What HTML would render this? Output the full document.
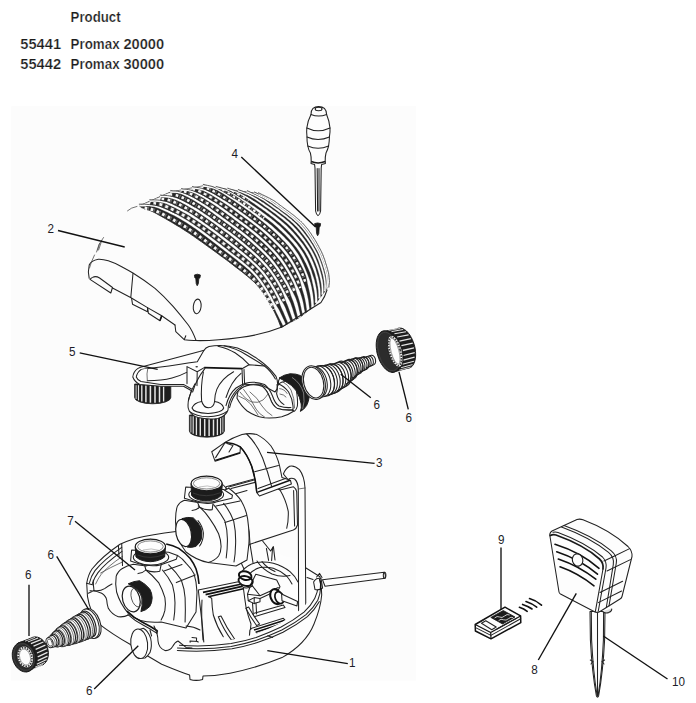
<!DOCTYPE html>
<html><head><meta charset="utf-8"><title>Promax spare parts</title>
<style>
html,body{margin:0;padding:0;background:#fff;}
body{width:696px;height:703px;overflow:hidden;position:relative;font-family:"Liberation Sans",sans-serif;}
svg{position:absolute;left:0;top:0;display:block;}
.t{font-family:"Liberation Sans",sans-serif;font-weight:bold;font-size:14.6px;fill:#1c1c1c;stroke:#fff;stroke-width:0.24px;}
.n{font-family:"Liberation Sans",sans-serif;font-size:13.4px;fill:#1c1c28;}
.ld{stroke:#111;stroke-width:1.35;fill:none;stroke-linecap:butt;}
.o{stroke:#222;stroke-width:1.05;fill:none;stroke-linejoin:round;stroke-linecap:round;}
.of{stroke:#222;stroke-width:1.05;fill:#fdfdfd;stroke-linejoin:round;stroke-linecap:round;}
.l{stroke:#444;stroke-width:0.75;fill:none;stroke-linejoin:round;stroke-linecap:round;}
.k{fill:#1a1a1a;stroke:#1a1a1a;stroke-width:0.8;stroke-linejoin:round;}
.h{stroke:#111;stroke-width:1.6;fill:none;stroke-linecap:round;}
</style></head><body>
<svg width="696" height="703" viewBox="0 0 696 703">
<g id="bg">
<rect x="11.2" y="106.2" width="404.8" height="574.5" fill="#fcfcfc"/>
</g>
<g id="text">
<g class="t">
<text x="70.6" y="22" textLength="50" lengthAdjust="spacingAndGlyphs">Product</text>
<text x="20.3" y="48.9" textLength="40.8" lengthAdjust="spacingAndGlyphs">55441</text>
<text x="70.6" y="48.9" textLength="49" lengthAdjust="spacingAndGlyphs">Promax</text>
<text x="123.4" y="48.9" textLength="40.8" lengthAdjust="spacingAndGlyphs">20000</text>
<text x="20.3" y="68.9" textLength="40.8" lengthAdjust="spacingAndGlyphs">55442</text>
<text x="70.6" y="68.9" textLength="49" lengthAdjust="spacingAndGlyphs">Promax</text>
<text x="123.4" y="68.9" textLength="40.8" lengthAdjust="spacingAndGlyphs">30000</text>
</g>
</g>
<g id="cover">
<path d="M141.5 207.6L143.8 208.3L146.1 209.0L148.3 209.8L150.5 210.7L152.7 211.7L154.9 212.8L157.0 213.9L159.0 215.1L161.1 216.2L163.2 217.4L165.3 218.6L167.3 219.8L169.4 221.0L171.5 222.2L173.5 223.4L175.6 224.7L177.6 225.9L179.7 227.1L181.7 228.4L183.7 229.7L185.7 231.0L187.7 232.3L189.7 233.6L191.7 235.0L193.7 236.3L195.6 237.7L197.6 239.1L199.5 240.5L201.5 241.8L203.4 243.2L205.3 244.6L207.3 246.0L209.2 247.4L211.2 248.8L213.1 250.2L215.0 251.6L217.0 253.0L218.9 254.4L220.8 255.9L222.8 257.3L224.7 258.7L226.6 260.1L228.5 261.5L230.4 263.0L232.3 264.4L234.2 265.9L236.1 267.4L238.0 268.8L239.9 270.3L241.8 271.7L243.7 273.2L245.5 274.7L247.4 276.2L249.2 277.7L251.0 279.3L252.8 280.9L254.5 282.5L256.2 284.2L257.8 286.0L259.4 287.8L260.9 289.6L262.4 291.5L263.8 293.5L265.2 295.4L266.5 297.4L267.8 299.4L269.0 301.5L270.2 303.6L271.3 305.7L272.4 307.8L273.4 310.0L274.5 312.1L275.5 314.3L276.5 316.4L277.5 318.6L278.5 320.8L279.3 323.0L280.2 325.3L281.0 327.5L284.5 325.5L289.5 322.8L294.5 320.2L299.5 317.5L303.9 314.2L308.2 310.8L312.6 307.5L316.2 302.7L319.4 298.4L322.4 294.5L324.9 291.2L326.9 288.5L328.0 287.0L328.0 287.0L328.1 285.4L328.3 283.9L328.4 282.3L328.4 280.8L328.3 279.2L328.2 277.6L328.0 276.1L327.8 274.5L327.5 273.0L327.2 271.5L326.8 270.0L326.3 268.5L325.9 267.0L325.4 265.5L325.0 264.0L324.5 262.5L324.0 261.0L323.5 259.5L323.0 258.0L322.5 256.5L321.9 255.1L321.3 253.7L320.6 252.2L319.9 250.8L319.2 249.4L318.5 248.0L317.7 246.7L317.0 245.3L316.2 243.9L315.4 242.6L314.6 241.2L313.8 239.9L313.0 238.6L312.2 237.2L311.3 235.9L310.4 234.6L309.5 233.3L308.6 232.1L307.7 230.8L306.8 229.5L305.8 228.3L304.8 227.1L303.8 225.9L302.7 224.8L301.6 223.6L300.5 222.5L299.4 221.5L298.2 220.4L297.1 219.4L295.9 218.4L294.7 217.4L293.4 216.4L292.2 215.4L291.0 214.4L289.7 213.5L288.5 212.6L287.2 211.6L286.0 210.7L284.7 209.8L283.4 208.8L282.2 207.9L280.9 207.0L279.6 206.1L278.4 205.2L277.1 204.2L275.9 203.3L274.6 202.3L273.3 201.5L272.0 200.7L270.6 199.9L269.2 199.2L267.8 198.4L266.5 197.7L265.1 197.0L263.6 196.3L262.2 195.6L260.8 194.9L259.4 194.3L258.0 193.6L258.0 193.6L253.9 193.0L246.8 192.0L237.9 190.8L227.4 189.3L215.8 187.7L203.0 185.9L192.2 187.9L181.4 190.0L170.6 192.0L160.2 196.6L149.8 201.2L139.4 205.8Z" fill="#262626" stroke="#222" stroke-width="0.8" stroke-linejoin="round"/>
<path d="M139.4 205.8L141.9 205.7L144.4 205.6L146.9 205.5L149.3 205.5L150.4 201.7Z" fill="#fdfdfd" stroke="#fdfdfd" stroke-width="0.6"/>
<path d="M149.8 201.2L152.2 201.2L154.7 201.1L157.1 201.1L159.6 201.3L160.8 197.1Z" fill="#fdfdfd" stroke="#fdfdfd" stroke-width="0.6"/>
<path d="M160.2 196.6L162.6 196.7L165.0 196.7L167.4 196.8L169.8 197.1L171.2 192.5Z" fill="#fdfdfd" stroke="#fdfdfd" stroke-width="0.6"/>
<path d="M170.6 192.0L173.0 192.2L175.4 192.2L177.7 192.4L180.1 192.9L182.0 190.5Z" fill="#fdfdfd" stroke="#fdfdfd" stroke-width="0.6"/>
<path d="M181.4 190.0L183.7 190.2L186.0 190.4L188.3 190.6L190.6 191.1L192.8 188.4Z" fill="#fdfdfd" stroke="#fdfdfd" stroke-width="0.6"/>
<path d="M192.2 187.9L194.4 188.3L196.7 188.5L198.9 188.8L201.1 189.2L203.6 186.4Z" fill="#fdfdfd" stroke="#fdfdfd" stroke-width="0.6"/>
<path d="M203.0 185.9L205.2 186.3L207.4 186.6L209.5 187.0L211.7 187.4L213.8 188.0L215.8 188.9L216.4 188.2Z" fill="#fdfdfd" stroke="#fdfdfd" stroke-width="0.6"/>
<path d="M215.8 187.7L217.8 188.1L219.8 188.5L221.8 189.0L223.8 189.5L225.7 190.1L227.6 190.9L228.0 189.8Z" fill="#fdfdfd" stroke="#fdfdfd" stroke-width="0.6"/>
<path d="M227.4 189.3L229.3 189.8L231.1 190.3L233.0 190.8L234.8 191.4L236.6 192.0L238.5 191.3Z" fill="#fdfdfd" stroke="#fdfdfd" stroke-width="0.6"/>
<path d="M237.9 190.8L239.6 191.3L241.3 191.9L242.9 192.4L244.6 193.1L246.3 193.7L247.4 192.5Z" fill="#fdfdfd" stroke="#fdfdfd" stroke-width="0.6"/>
<path d="M246.8 192.0L248.4 192.6L250.0 193.2L251.5 193.9L253.1 194.5L254.5 193.5Z" fill="#fdfdfd" stroke="#fdfdfd" stroke-width="0.6"/>
<path d="M253.9 193.0L255.4 193.7L256.9 194.3L258.6 194.1Z" fill="#fdfdfd" stroke="#fdfdfd" stroke-width="0.6"/>
<path d="M144.6 208.1L147.0 208.5L149.3 208.9L151.7 209.5L154.0 210.2L156.2 211.1L158.5 212.1L160.7 213.1L162.8 214.2L165.0 215.3L167.2 216.4L169.3 217.6L171.5 218.7L173.6 219.9L175.7 221.1L177.8 222.3L179.9 223.5L182.0 224.8L184.1 226.1L186.2 227.4L188.2 228.7L190.2 230.1L192.3 231.4L194.3 232.8L196.3 234.2L198.3 235.6L200.2 237.1L202.2 238.5L204.2 239.9L206.2 241.4L208.1 242.8L210.1 244.3L212.0 245.7L214.0 247.2L215.9 248.7L217.9 250.1L219.8 251.6L221.8 253.1L223.7 254.5L225.7 256.0L227.6 257.5L229.6 258.9L231.5 260.4L233.4 261.9L235.4 263.4L237.3 264.9L239.2 266.4L241.1 267.9L243.0 269.4L244.9 271.0L246.8 272.6L248.6 274.2L250.4 275.8L252.2 277.5L253.9 279.2L255.6 281.0L257.2 282.8L258.7 284.7L260.2 286.6L261.7 288.6L263.1 290.6L264.5 292.6L265.8 294.6L267.0 296.7L268.3 298.8L269.5 300.9L270.7 303.1L271.8 305.2L273.0 307.4" fill="none" stroke="#6a6a6a" stroke-width="3.70" stroke-dasharray="1.2 1.9" stroke-dashoffset="0.0"/>
<path d="M144.6 208.1L147.0 208.5L149.3 208.9L151.7 209.5L154.0 210.2L156.2 211.1L158.5 212.1L160.7 213.1L162.8 214.2L165.0 215.3L167.2 216.4L169.3 217.6L171.5 218.7L173.6 219.9L175.7 221.1L177.8 222.3L179.9 223.5L182.0 224.8L184.1 226.1L186.2 227.4L188.2 228.7L190.2 230.1L192.3 231.4L194.3 232.8L196.3 234.2L198.3 235.6L200.2 237.1L202.2 238.5L204.2 239.9L206.2 241.4L208.1 242.8L210.1 244.3L212.0 245.7L214.0 247.2L215.9 248.7L217.9 250.1L219.8 251.6L221.8 253.1L223.7 254.5L225.7 256.0L227.6 257.5L229.6 258.9L231.5 260.4L233.4 261.9L235.4 263.4L237.3 264.9L239.2 266.4L241.1 267.9L243.0 269.4L244.9 271.0L246.8 272.6L248.6 274.2L250.4 275.8L252.2 277.5L253.9 279.2L255.6 281.0L257.2 282.8L258.7 284.7L260.2 286.6L261.7 288.6L263.1 290.6L264.5 292.6L265.8 294.6L267.0 296.7L268.3 298.8L269.5 300.9L270.7 303.1L271.8 305.2L273.0 307.4L274.1 309.6" fill="none" stroke="#f4f4f4" stroke-width="2.90" stroke-dasharray="2.7 3.5" stroke-dashoffset="0.0"/>
<path d="M156.9 203.7L159.3 204.1L161.7 204.8L164.0 205.6L166.3 206.6L168.6 207.6L170.8 208.6L173.0 209.7L175.2 210.8L177.4 211.9L179.6 213.1L181.8 214.3L183.9 215.5L186.0 216.8L188.2 218.0L190.2 219.4L192.3 220.7L194.4 222.0L196.4 223.4L198.5 224.8L200.5 226.2L202.5 227.7L204.5 229.1L206.5 230.5L208.5 232.0L210.5 233.5L212.5 235.0L214.5 236.4L216.4 237.9L218.4 239.4L220.4 240.9L222.3 242.5L224.3 244.0L226.2 245.5L228.1 247.0L230.1 248.6L232.0 250.1L234.0 251.6L235.9 253.2L237.8 254.7L239.8 256.2L241.7 257.8L243.6 259.3L245.5 260.9L247.4 262.5L249.3 264.1L251.1 265.7L252.9 267.4L254.7 269.1L256.4 270.9L258.1 272.7L259.7 274.6L261.2 276.5L262.7 278.5L264.2 280.5L265.6 282.5L267.0 284.6L268.3 286.6L269.6 288.8L270.9 290.9L272.1 293.0L273.2 295.2L274.4 297.4L275.6 299.6L276.7 301.8L277.8 304.0" fill="none" stroke="#6a6a6a" stroke-width="3.60" stroke-dasharray="1.2 1.9" stroke-dashoffset="1.3"/>
<path d="M149.5 203.3L152.0 203.3L154.5 203.4L156.9 203.7L159.3 204.1L161.7 204.8L164.0 205.6L166.3 206.6L168.6 207.6L170.8 208.6L173.0 209.7L175.2 210.8L177.4 211.9L179.6 213.1L181.8 214.3L183.9 215.5L186.0 216.8L188.2 218.0L190.2 219.4L192.3 220.7L194.4 222.0L196.4 223.4L198.5 224.8L200.5 226.2L202.5 227.7L204.5 229.1L206.5 230.5L208.5 232.0L210.5 233.5L212.5 235.0L214.5 236.4L216.4 237.9L218.4 239.4L220.4 240.9L222.3 242.5L224.3 244.0L226.2 245.5L228.1 247.0L230.1 248.6L232.0 250.1L234.0 251.6L235.9 253.2L237.8 254.7L239.8 256.2L241.7 257.8L243.6 259.3L245.5 260.9L247.4 262.5L249.3 264.1L251.1 265.7L252.9 267.4L254.7 269.1L256.4 270.9L258.1 272.7L259.7 274.6L261.2 276.5L262.7 278.5L264.2 280.5L265.6 282.5L267.0 284.6L268.3 286.6L269.6 288.8L270.9 290.9L272.1 293.0L273.2 295.2L274.4 297.4L275.6 299.6L276.7 301.8L277.8 304.0L278.9 306.2" fill="none" stroke="#f4f4f4" stroke-width="2.80" stroke-dasharray="2.7 3.5" stroke-dashoffset="2.3"/>
<path d="M167.1 199.7L169.4 200.3L171.7 201.1L174.0 202.0L176.2 203.0L178.4 204.0L180.5 205.1L182.7 206.2L184.8 207.4L187.0 208.6L189.1 209.8L191.1 211.1L193.2 212.3L195.3 213.6L197.3 215.0L199.3 216.3L201.4 217.7L203.4 219.0L205.4 220.4L207.4 221.8L209.3 223.2L211.3 224.7L213.3 226.1L215.3 227.5L217.2 229.0L219.2 230.4L221.1 231.8L223.1 233.3L225.0 234.8L227.0 236.2L228.9 237.7L230.8 239.2L232.7 240.7L234.6 242.2L236.5 243.8L238.4 245.3L240.3 246.9L242.2 248.4L244.1 250.0L245.9 251.5L247.8 253.1L249.6 254.7L251.5 256.3L253.3 257.9L255.1 259.5L256.8 261.2L258.6 262.9L260.3 264.6L262.0 266.4L263.6 268.2L265.2 270.0L266.7 271.9L268.2 273.9L269.6 275.8L271.0 277.8L272.3 279.9L273.6 281.9L274.9 284.0L276.2 286.1L277.4 288.2L278.6 290.3L279.7 292.5L280.8 294.6L281.9 296.8L283.0 299.0" fill="none" stroke="#6a6a6a" stroke-width="3.50" stroke-dasharray="1.2 1.9" stroke-dashoffset="2.6"/>
<path d="M159.9 198.9L162.3 199.0L164.7 199.2L167.1 199.7L169.4 200.3L171.7 201.1L174.0 202.0L176.2 203.0L178.4 204.0L180.5 205.1L182.7 206.2L184.8 207.4L187.0 208.6L189.1 209.8L191.1 211.1L193.2 212.3L195.3 213.6L197.3 215.0L199.3 216.3L201.4 217.7L203.4 219.0L205.4 220.4L207.4 221.8L209.3 223.2L211.3 224.7L213.3 226.1L215.3 227.5L217.2 229.0L219.2 230.4L221.1 231.8L223.1 233.3L225.0 234.8L227.0 236.2L228.9 237.7L230.8 239.2L232.7 240.7L234.6 242.2L236.5 243.8L238.4 245.3L240.3 246.9L242.2 248.4L244.1 250.0L245.9 251.5L247.8 253.1L249.6 254.7L251.5 256.3L253.3 257.9L255.1 259.5L256.8 261.2L258.6 262.9L260.3 264.6L262.0 266.4L263.6 268.2L265.2 270.0L266.7 271.9L268.2 273.9L269.6 275.8L271.0 277.8L272.3 279.9L273.6 281.9L274.9 284.0L276.2 286.1L277.4 288.2L278.6 290.3L279.7 292.5L280.8 294.6L281.9 296.8L283.0 299.0L284.0 301.2" fill="none" stroke="#f4f4f4" stroke-width="2.70" stroke-dasharray="2.7 3.5" stroke-dashoffset="4.6"/>
<path d="M177.2 195.6L179.5 196.4L181.7 197.3L183.9 198.3L186.0 199.4L188.2 200.5L190.3 201.6L192.4 202.8L194.4 204.0L196.5 205.3L198.5 206.5L200.5 207.8L202.5 209.2L204.5 210.5L206.5 211.9L208.4 213.2L210.4 214.6L212.4 216.0L214.3 217.4L216.2 218.8L218.2 220.2L220.1 221.7L222.1 223.1L224.0 224.5L225.9 225.9L227.9 227.3L229.8 228.7L231.7 230.2L233.6 231.6L235.6 233.1L237.5 234.5L239.4 236.0L241.2 237.5L243.1 239.0L244.9 240.5L246.8 242.1L248.6 243.6L250.4 245.2L252.2 246.8L254.0 248.4L255.8 250.0L257.6 251.6L259.3 253.2L261.0 254.9L262.7 256.6L264.4 258.3L266.0 260.0L267.7 261.8L269.2 263.6L270.8 265.5L272.2 267.4L273.7 269.3L275.1 271.2L276.4 273.2L277.8 275.2L279.0 277.2L280.3 279.2L281.6 281.3L282.8 283.4L284.0 285.4L285.1 287.6L286.2 289.7L287.2 291.9L288.3 294.0" fill="none" stroke="#6a6a6a" stroke-width="3.40" stroke-dasharray="1.2 1.9" stroke-dashoffset="0.9"/>
<path d="M170.2 194.5L172.6 194.6L174.9 195.0L177.2 195.6L179.5 196.4L181.7 197.3L183.9 198.3L186.0 199.4L188.2 200.5L190.3 201.6L192.4 202.8L194.4 204.0L196.5 205.3L198.5 206.5L200.5 207.8L202.5 209.2L204.5 210.5L206.5 211.9L208.4 213.2L210.4 214.6L212.4 216.0L214.3 217.4L216.2 218.8L218.2 220.2L220.1 221.7L222.1 223.1L224.0 224.5L225.9 225.9L227.9 227.3L229.8 228.7L231.7 230.2L233.6 231.6L235.6 233.1L237.5 234.5L239.4 236.0L241.2 237.5L243.1 239.0L244.9 240.5L246.8 242.1L248.6 243.6L250.4 245.2L252.2 246.8L254.0 248.4L255.8 250.0L257.6 251.6L259.3 253.2L261.0 254.9L262.7 256.6L264.4 258.3L266.0 260.0L267.7 261.8L269.2 263.6L270.8 265.5L272.2 267.4L273.7 269.3L275.1 271.2L276.4 273.2L277.8 275.2L279.0 277.2L280.3 279.2L281.6 281.3L282.8 283.4L284.0 285.4L285.1 287.6L286.2 289.7L287.2 291.9L288.3 294.0L289.2 296.2" fill="none" stroke="#f4f4f4" stroke-width="2.60" stroke-dasharray="2.7 3.5" stroke-dashoffset="0.7"/>
<path d="M187.6 192.7L189.8 193.6L191.9 194.5L194.0 195.5L196.1 196.6L198.2 197.8L200.2 198.9L202.2 200.1L204.2 201.4L206.2 202.6L208.2 203.9L210.1 205.2L212.1 206.5L214.0 207.9L215.9 209.2L217.9 210.6L219.8 212.0L221.7 213.3L223.6 214.7L225.5 216.1L227.4 217.5L229.2 218.9L231.1 220.3L233.0 221.7L234.9 223.1L236.8 224.5L238.7 225.9L240.6 227.3L242.5 228.7L244.3 230.1L246.2 231.6L248.1 233.0L249.9 234.5L251.7 236.0L253.5 237.5L255.3 239.0L257.0 240.6L258.8 242.2L260.5 243.7L262.3 245.3L264.0 247.0L265.6 248.6L267.3 250.3L269.0 251.9L270.6 253.6L272.2 255.4L273.7 257.1L275.2 258.9L276.7 260.8L278.1 262.6L279.5 264.5L280.9 266.5L282.2 268.4L283.4 270.4L284.7 272.4L285.9 274.4L287.1 276.4L288.2 278.5L289.4 280.5L290.5 282.6L291.5 284.7L292.5 286.8L293.5 289.0L294.4 291.1" fill="none" stroke="#6a6a6a" stroke-width="3.30" stroke-dasharray="1.2 1.9" stroke-dashoffset="2.2"/>
<path d="M180.7 191.3L183.0 191.5L185.3 192.0L187.6 192.7L189.8 193.6L191.9 194.5L194.0 195.5L196.1 196.6L198.2 197.8L200.2 198.9L202.2 200.1L204.2 201.4L206.2 202.6L208.2 203.9L210.1 205.2L212.1 206.5L214.0 207.9L215.9 209.2L217.9 210.6L219.8 212.0L221.7 213.3L223.6 214.7L225.5 216.1L227.4 217.5L229.2 218.9L231.1 220.3L233.0 221.7L234.9 223.1L236.8 224.5L238.7 225.9L240.6 227.3L242.5 228.7L244.3 230.1L246.2 231.6L248.1 233.0L249.9 234.5L251.7 236.0L253.5 237.5L255.3 239.0L257.0 240.6L258.8 242.2L260.5 243.7L262.3 245.3L264.0 247.0L265.6 248.6L267.3 250.3L269.0 251.9L270.6 253.6L272.2 255.4L273.7 257.1L275.2 258.9L276.7 260.8L278.1 262.6L279.5 264.5L280.9 266.5L282.2 268.4L283.4 270.4L284.7 272.4L285.9 274.4L287.1 276.4L288.2 278.5L289.4 280.5L290.5 282.6L291.5 284.7L292.5 286.8L293.5 289.0L294.4 291.1L295.3 293.3" fill="none" stroke="#f4f4f4" stroke-width="2.50" stroke-dasharray="2.7 3.5" stroke-dashoffset="3.0"/>
<path d="M198.1 190.8L200.2 191.7L202.3 192.6L204.3 193.7L206.3 194.7L208.3 195.9L210.3 197.0L212.3 198.2L214.2 199.4L216.2 200.6L218.1 201.9L220.0 203.2L221.9 204.4L223.8 205.7L225.7 207.0L227.6 208.3L229.4 209.7L231.3 211.0L233.2 212.4L235.0 213.7L236.8 215.1L238.7 216.4L240.5 217.8L242.4 219.2L244.2 220.5L246.1 221.9L247.9 223.3L249.7 224.7L251.5 226.0L253.4 227.5L255.2 228.9L256.9 230.3L258.7 231.8L260.5 233.2L262.2 234.8L263.9 236.3L265.6 237.8L267.3 239.4L269.0 240.9L270.6 242.5L272.3 244.1L273.9 245.7L275.5 247.4L277.1 249.0L278.6 250.7L280.1 252.5L281.6 254.2L283.0 256.0L284.4 257.8L285.7 259.7L287.0 261.6L288.2 263.5L289.5 265.5L290.6 267.4L291.8 269.4L292.9 271.4L293.9 273.4L295.0 275.5L296.0 277.5L297.0 279.6L297.9 281.7L298.7 283.8L299.5 286.0" fill="none" stroke="#6a6a6a" stroke-width="3.20" stroke-dasharray="1.2 1.9" stroke-dashoffset="0.5"/>
<path d="M191.4 189.4L193.6 189.7L195.9 190.2L198.1 190.8L200.2 191.7L202.3 192.6L204.3 193.7L206.3 194.7L208.3 195.9L210.3 197.0L212.3 198.2L214.2 199.4L216.2 200.6L218.1 201.9L220.0 203.2L221.9 204.4L223.8 205.7L225.7 207.0L227.6 208.3L229.4 209.7L231.3 211.0L233.2 212.4L235.0 213.7L236.8 215.1L238.7 216.4L240.5 217.8L242.4 219.2L244.2 220.5L246.1 221.9L247.9 223.3L249.7 224.7L251.5 226.0L253.4 227.5L255.2 228.9L256.9 230.3L258.7 231.8L260.5 233.2L262.2 234.8L263.9 236.3L265.6 237.8L267.3 239.4L269.0 240.9L270.6 242.5L272.3 244.1L273.9 245.7L275.5 247.4L277.1 249.0L278.6 250.7L280.1 252.5L281.6 254.2L283.0 256.0L284.4 257.8L285.7 259.7L287.0 261.6L288.2 263.5L289.5 265.5L290.6 267.4L291.8 269.4L292.9 271.4L293.9 273.4L295.0 275.5L296.0 277.5L297.0 279.6L297.9 281.7L298.7 283.8L299.5 286.0L300.3 288.1" fill="none" stroke="#f4f4f4" stroke-width="2.40" stroke-dasharray="2.7 3.5" stroke-dashoffset="5.3"/>
<path d="M208.6 189.0L210.6 189.8L212.7 190.7L214.6 191.8L216.6 192.8L218.5 194.0L220.4 195.1L222.3 196.3L224.2 197.5L226.1 198.7L228.0 199.9L229.9 201.1L231.7 202.3L233.6 203.6L235.4 204.8L237.3 206.1L239.1 207.4L240.9 208.7L242.7 210.0L244.5 211.3L246.3 212.6L248.1 214.0L249.9 215.3L251.7 216.6L253.5 218.0L255.3 219.3L257.1 220.7L258.9 222.0L260.6 223.4L262.4 224.8L264.1 226.2L265.8 227.6L267.5 229.0L269.2 230.5L270.9 232.0L272.5 233.5L274.2 235.0L275.8 236.5L277.4 238.1L279.0 239.7L280.6 241.2L282.1 242.8L283.7 244.5L285.2 246.1L286.6 247.8L288.1 249.5L289.4 251.3L290.8 253.1L292.1 254.9L293.3 256.8L294.5 258.7L295.6 260.6L296.7 262.5L297.8 264.5L298.8 266.5L299.8 268.5L300.8 270.5L301.7 272.5L302.6 274.5L303.4 276.6L304.2 278.7L304.9 280.8" fill="none" stroke="#6a6a6a" stroke-width="3.10" stroke-dasharray="1.2 1.9" stroke-dashoffset="1.8"/>
<path d="M202.0 187.6L204.2 187.9L206.4 188.3L208.6 189.0L210.6 189.8L212.7 190.7L214.6 191.8L216.6 192.8L218.5 194.0L220.4 195.1L222.3 196.3L224.2 197.5L226.1 198.7L228.0 199.9L229.9 201.1L231.7 202.3L233.6 203.6L235.4 204.8L237.3 206.1L239.1 207.4L240.9 208.7L242.7 210.0L244.5 211.3L246.3 212.6L248.1 214.0L249.9 215.3L251.7 216.6L253.5 218.0L255.3 219.3L257.1 220.7L258.9 222.0L260.6 223.4L262.4 224.8L264.1 226.2L265.8 227.6L267.5 229.0L269.2 230.5L270.9 232.0L272.5 233.5L274.2 235.0L275.8 236.5L277.4 238.1L279.0 239.7L280.6 241.2L282.1 242.8L283.7 244.5L285.2 246.1L286.6 247.8L288.1 249.5L289.4 251.3L290.8 253.1L292.1 254.9L293.3 256.8L294.5 258.7L295.6 260.6L296.7 262.5L297.8 264.5L298.8 266.5L299.8 268.5L300.8 270.5L301.7 272.5L302.6 274.5L303.4 276.6L304.2 278.7L304.9 280.8L305.6 282.9" fill="none" stroke="#f4f4f4" stroke-width="2.30" stroke-dasharray="2.7 3.5" stroke-dashoffset="1.4"/>
<path d="M219.8 189.1L221.7 189.9L223.6 190.8L225.5 191.8L227.4 192.8L229.2 193.9L231.0 195.0L232.9 196.2L234.6 197.3L236.4 198.5L238.2 199.6L240.0 200.8L241.8 202.0L243.6 203.1L245.3 204.3L247.1 205.5L248.8 206.8L250.6 208.0L252.3 209.2L254.0 210.5L255.7 211.8L257.4 213.0L259.1 214.3L260.8 215.6L262.5 216.9" fill="none" stroke="#6a6a6a" stroke-width="3.00" stroke-dasharray="1.2 1.9" stroke-dashoffset="0.1"/>
<path d="M213.6 187.6L215.7 188.0L217.7 188.4L219.8 189.1L221.7 189.9L223.6 190.8L225.5 191.8L227.4 192.8L229.2 193.9L231.0 195.0L232.9 196.2L234.6 197.3L236.4 198.5L238.2 199.6L240.0 200.8L241.8 202.0L243.6 203.1L245.3 204.3L247.1 205.5L248.8 206.8L250.6 208.0L252.3 209.2L254.0 210.5L255.7 211.8L257.4 213.0L259.1 214.3L260.8 215.6L262.5 216.9L264.2 218.2" fill="none" stroke="#f4f4f4" stroke-width="2.20" stroke-dasharray="2.7 3.5" stroke-dashoffset="3.7"/>
<path d="M231.1 191.1L233.0 191.9L234.8 192.7L236.5 193.6L238.3 194.6L240.0 195.6L241.7 196.6L243.4 197.7L245.0 198.8L246.7 199.9" fill="none" stroke="#6a6a6a" stroke-width="2.90" stroke-dasharray="1.2 1.9" stroke-dashoffset="1.4"/>
<path d="M225.5 189.4L227.4 189.9L229.3 190.4L231.1 191.1L233.0 191.9L234.8 192.7L236.5 193.6L238.3 194.6L240.0 195.6L241.7 196.6L243.4 197.7L245.0 198.8L246.7 199.9L248.3 201.0" fill="none" stroke="#f4f4f4" stroke-width="2.10" stroke-dasharray="2.7 3.5" stroke-dashoffset="6.0"/>
<path d="M139.4 206.1L141.9 206.2L144.4 206.2L146.9 206.1L149.3 206.1L151.8 206.4L154.2 206.7L156.5 207.4L158.8 208.2L161.0 209.2L163.3 210.2L165.5 211.3L167.8 212.3L170.0 213.4L172.2 214.5L174.4 215.6L176.6 216.8L178.8 218.0L180.9 219.2L183.0 220.5L185.2 221.8L187.2 223.1L189.3 224.4L191.4 225.8L193.4 227.2L195.5 228.6L197.5 230.0L199.5 231.5L201.5 232.9L203.5 234.4L205.5 235.9L207.5 237.4L209.5 238.9L211.5 240.4L213.4 241.9L215.4 243.4L217.4 244.9L219.3 246.5L221.3 248.0L223.3 249.5L225.2 251.1L227.2 252.6L229.2 254.1L231.2 255.6L233.1 257.1L235.1 258.6L237.1 260.1L239.0 261.7L241.0 263.2L242.9 264.7L244.8 266.3L246.7 267.9L248.6 269.5L250.4 271.2L252.1 273.0L253.8 274.7L255.4 276.6L257.0 278.5L258.5 280.4L260.0 282.4L261.4 284.4L262.8 286.5L264.2 288.5L265.5 290.6L266.7 292.7L267.9 294.9L269.2 297.1L270.4 299.2L271.5 301.4L272.7 303.6L273.7 305.9L274.7 308.2L275.6 310.5L276.6 312.7L277.8 314.9L278.9 317.2L280.0 319.4L281.1 321.6L282.2 323.8L283.2 326.1L285.8 324.9L284.8 322.6L283.8 320.3L282.7 318.1L281.7 315.8L280.6 313.5L279.6 311.3L278.4 309.1L277.1 306.9L275.8 304.8L274.4 302.7L273.2 300.5L272.1 298.3L270.9 296.1L269.7 293.9L268.4 291.7L267.1 289.6L265.8 287.5L264.4 285.4L263.0 283.3L261.6 281.3L260.1 279.2L258.6 277.2L257.0 275.3L255.3 273.4L253.5 271.6L251.8 269.8L249.9 268.1L248.0 266.4L246.1 264.8L244.2 263.2L242.3 261.6L240.3 260.0L238.4 258.5L236.4 257.0L234.4 255.4L232.5 253.9L230.5 252.4L228.5 250.9L226.6 249.3L224.6 247.8L222.6 246.3L220.7 244.7L218.7 243.2L216.7 241.7L214.8 240.2L212.8 238.7L210.8 237.2L208.8 235.7L206.8 234.2L204.8 232.7L202.8 231.2L200.8 229.7L198.7 228.3L196.7 226.9L194.6 225.5L192.6 224.1L190.5 222.7L188.4 221.3L186.2 220.0L184.1 218.7L182.0 217.4L179.8 216.2L177.6 215.0L175.4 213.8L173.1 212.7L170.9 211.6L168.6 210.5L166.4 209.4L164.1 208.4L161.7 207.5L159.4 206.6L156.9 205.9L154.4 205.4L151.9 205.1L149.4 205.0L146.9 204.9L144.3 205.0L141.9 205.2L139.4 205.5Z" fill="#fff" stroke="#fff" stroke-width="0.3"/>
<path d="M139.3 204.2L141.8 204.1L144.3 204.2L146.9 204.4L149.4 204.6L151.9 204.8L154.5 205.0L157.0 205.6L159.5 206.3L161.9 207.2L164.2 208.1L166.5 209.1L168.8 210.2L171.0 211.3L173.3 212.4L175.5 213.5" fill="none" stroke="#2a2a2a" stroke-width="0.75" stroke-linecap="round"/>
<path d="M149.8 201.5L152.3 201.6L154.7 201.6L157.1 201.7L159.5 202.0L161.8 202.5L164.2 203.0L166.4 203.8L168.6 204.7L170.8 205.7L173.0 206.7L175.2 207.8L177.4 208.9L179.5 210.0L181.7 211.2L183.8 212.4L185.9 213.6L188.0 214.8L190.1 216.1L192.2 217.4L194.2 218.7L196.3 220.1L198.3 221.4L200.3 222.8L202.3 224.2L204.3 225.6L206.3 227.0L208.3 228.5L210.3 229.9L212.2 231.3L214.2 232.8L216.2 234.3L218.1 235.7L220.1 237.2L222.0 238.7L224.0 240.2L225.9 241.7L227.8 243.2L229.7 244.7L231.7 246.3L233.6 247.8L235.5 249.3L237.4 250.9L239.3 252.4L241.2 253.9L243.1 255.5L245.0 257.0L246.9 258.6L248.7 260.2L250.6 261.8L252.4 263.4L254.2 265.0L255.9 266.7L257.6 268.5L259.3 270.2L260.9 272.0L262.4 273.9L263.9 275.8L265.3 277.8L266.7 279.7L268.1 281.8L269.5 283.8L270.8 285.8L272.0 287.9L273.3 290.0L274.5 292.1L275.6 294.3L276.8 296.4L277.9 298.6L278.8 300.9L279.7 303.1L280.6 305.4L281.5 307.7L282.5 309.9L283.5 312.1L284.4 314.3L285.4 316.6L286.3 318.8L287.3 321.1L288.2 323.4L290.8 322.3L289.9 320.0L289.1 317.7L288.2 315.5L287.3 313.2L286.4 310.9L285.5 308.6L284.5 306.3L283.4 304.1L282.1 302.0L280.8 299.9L279.6 297.7L278.5 295.6L277.3 293.4L276.2 291.2L275.0 289.0L273.7 286.9L272.5 284.8L271.1 282.7L269.8 280.6L268.4 278.6L267.0 276.6L265.5 274.6L264.0 272.6L262.4 270.7L260.7 268.9L259.1 267.1L257.3 265.3L255.5 263.6L253.7 261.9L251.9 260.2L250.1 258.6L248.2 257.0L246.3 255.4L244.4 253.8L242.6 252.3L240.7 250.7L238.7 249.2L236.8 247.6L234.9 246.1L233.0 244.6L231.1 243.0L229.2 241.5L227.2 240.0L225.3 238.5L223.3 237.0L221.4 235.5L219.4 234.0L217.5 232.5L215.5 231.1L213.5 229.6L211.5 228.2L209.5 226.7L207.5 225.3L205.5 223.9L203.5 222.5L201.5 221.1L199.5 219.7L197.4 218.3L195.4 216.9L193.3 215.6L191.2 214.3L189.1 213.0L187.0 211.8L184.9 210.5L182.7 209.3L180.5 208.2L178.3 207.0L176.1 205.9L173.9 204.9L171.7 203.8L169.4 202.9L167.0 202.0L164.6 201.4L162.1 200.9L159.7 200.6L157.2 200.5L154.7 200.6L152.2 200.8L149.8 200.9Z" fill="#fff" stroke="#fff" stroke-width="0.3"/>
<path d="M149.8 199.7L152.2 199.9L154.7 199.9L157.2 200.0L159.7 200.2L162.2 200.6L164.7 201.0L167.1 201.7L169.5 202.6L171.8 203.5L174.1 204.6L176.3 205.6L178.5 206.7L180.7 207.9L182.9 209.0L185.0 210.2" fill="none" stroke="#2a2a2a" stroke-width="0.75" stroke-linecap="round"/>
<path d="M160.2 196.9L162.6 197.1L165.0 197.2L167.4 197.4L169.7 197.9L171.9 198.5L174.2 199.2L176.3 200.1L178.5 201.1L180.7 202.1L182.8 203.2L184.9 204.3L187.0 205.5L189.1 206.7L191.2 207.9L193.2 209.1L195.3 210.4L197.3 211.7L199.3 213.0L201.3 214.3L203.3 215.7L205.3 217.0L207.2 218.4L209.2 219.8L211.2 221.2L213.1 222.6L215.1 224.0L217.1 225.4L219.0 226.9L221.0 228.3L222.9 229.7L224.8 231.2L226.8 232.6L228.7 234.1L230.6 235.5L232.5 237.0L234.4 238.5L236.3 240.0L238.2 241.5L240.0 243.0L241.9 244.5L243.8 246.1L245.6 247.6L247.4 249.2L249.3 250.7L251.1 252.3L252.9 253.9L254.7 255.5L256.4 257.2L258.2 258.8L259.9 260.5L261.6 262.2L263.2 263.9L264.8 265.7L266.4 267.5L267.9 269.3L269.4 271.2L270.8 273.1L272.2 275.1L273.5 277.1L274.8 279.1L276.1 281.1L277.4 283.1L278.6 285.2L279.8 287.3L281.0 289.4L282.1 291.5L283.2 293.7L284.1 295.9L284.9 298.1L285.7 300.4L286.6 302.7L287.5 304.8L288.4 307.0L289.2 309.3L290.0 311.5L290.8 313.8L291.6 316.1L292.4 318.3L293.2 320.6L295.8 319.7L295.1 317.4L294.3 315.1L293.6 312.9L292.9 310.5L292.2 308.2L291.4 305.9L290.6 303.6L289.6 301.3L288.5 299.2L287.3 297.0L286.1 294.9L284.9 292.8L283.8 290.6L282.7 288.5L281.5 286.3L280.3 284.2L279.1 282.1L277.8 280.0L276.5 278.0L275.2 276.0L273.8 274.0L272.4 272.0L271.0 270.0L269.5 268.1L267.9 266.2L266.4 264.3L264.7 262.5L263.1 260.7L261.4 259.0L259.6 257.3L257.9 255.6L256.1 254.0L254.3 252.3L252.5 250.7L250.7 249.1L248.8 247.5L247.0 246.0L245.2 244.4L243.3 242.8L241.4 241.3L239.6 239.8L237.7 238.2L235.8 236.8L233.8 235.3L231.9 233.8L230.0 232.3L228.1 230.9L226.1 229.4L224.2 228.0L222.2 226.6L220.3 225.1L218.3 223.7L216.3 222.3L214.4 220.9L212.4 219.5L210.5 218.0L208.5 216.6L206.5 215.3L204.5 213.9L202.5 212.5L200.5 211.2L198.5 209.8L196.4 208.5L194.4 207.3L192.3 206.0L190.2 204.8L188.1 203.6L185.9 202.4L183.8 201.3L181.6 200.2L179.4 199.2L177.1 198.3L174.8 197.5L172.4 196.8L170.0 196.3L167.5 196.1L165.0 196.1L162.6 196.3L160.2 196.3Z" fill="#fff" stroke="#fff" stroke-width="0.3"/>
<path d="M160.3 195.1L162.6 195.3L165.0 195.4L167.5 195.6L170.0 196.0L172.5 196.5L174.9 197.1L177.2 197.9L179.5 198.9L181.7 199.9L183.9 201.0L186.1 202.1L188.2 203.3L190.3 204.5L192.4 205.7L194.5 207.0" fill="none" stroke="#2a2a2a" stroke-width="0.75" stroke-linecap="round"/>
<path d="M170.6 192.3L173.0 192.6L175.3 192.8L177.6 193.0L179.9 193.6L182.1 194.3L184.2 195.3L186.3 196.3L188.4 197.3L190.5 198.4L192.6 199.6L194.6 200.7L196.7 202.0L198.7 203.2L200.7 204.5L202.7 205.8L204.6 207.1L206.6 208.4L208.5 209.8L210.4 211.2L212.4 212.6L214.3 214.0L216.2 215.4L218.1 216.8L220.1 218.2L222.0 219.6L223.9 221.0L225.8 222.4L227.7 223.8L229.7 225.2L231.6 226.6L233.5 228.0L235.4 229.5L237.3 230.9L239.2 232.3L241.1 233.8L242.9 235.2L244.8 236.7L246.6 238.2L248.4 239.7L250.2 241.3L252.0 242.8L253.8 244.4L255.6 246.0L257.3 247.6L259.1 249.2L260.8 250.8L262.5 252.5L264.1 254.1L265.8 255.8L267.4 257.6L269.0 259.3L270.5 261.1L272.0 262.9L273.5 264.8L274.9 266.6L276.3 268.5L277.7 270.5L279.0 272.4L280.3 274.4L281.5 276.4L282.8 278.4L284.0 280.5L285.2 282.5L286.4 284.6L287.5 286.6L288.5 288.8L289.5 290.9L290.3 293.1L291.1 295.4L291.8 297.6L292.7 299.8L293.6 302.0L294.3 304.2L295.0 306.4L295.7 308.7L296.3 310.9L296.9 313.3L297.5 315.6L298.2 317.9L300.8 317.1L300.1 314.8L299.6 312.6L299.0 310.3L298.5 307.9L297.9 305.6L297.3 303.2L296.5 300.9L295.7 298.6L294.8 296.4L293.7 294.3L292.6 292.1L291.4 290.0L290.3 287.9L289.2 285.7L288.1 283.6L287.0 281.5L285.7 279.4L284.5 277.4L283.3 275.3L282.0 273.3L280.7 271.3L279.4 269.3L278.0 267.3L276.6 265.4L275.2 263.5L273.7 261.6L272.2 259.7L270.6 257.9L269.0 256.1L267.3 254.4L265.7 252.6L264.0 250.9L262.3 249.3L260.5 247.6L258.8 246.0L257.0 244.4L255.3 242.8L253.5 241.2L251.7 239.6L249.9 238.0L248.0 236.5L246.2 235.0L244.3 233.5L242.4 232.1L240.5 230.6L238.6 229.2L236.7 227.7L234.8 226.3L232.8 224.9L230.9 223.5L229.0 222.1L227.1 220.7L225.2 219.3L223.2 217.9L221.3 216.5L219.4 215.1L217.5 213.7L215.5 212.2L213.6 210.9L211.7 209.5L209.7 208.1L207.8 206.7L205.8 205.4L203.8 204.0L201.8 202.7L199.8 201.5L197.7 200.2L195.7 199.0L193.6 197.8L191.4 196.7L189.3 195.7L187.1 194.7L184.9 193.7L182.6 192.9L180.2 192.2L177.8 191.8L175.4 191.7L173.0 191.8L170.6 191.7Z" fill="#fff" stroke="#fff" stroke-width="0.3"/>
<path d="M170.7 190.5L173.0 190.8L175.4 191.0L177.9 191.3L180.3 191.9L182.7 192.6L185.0 193.4L187.2 194.3L189.4 195.3L191.6 196.4L193.7 197.5L195.8 198.7L197.9 199.9L200.0 201.2L202.0 202.4L204.0 203.7" fill="none" stroke="#2a2a2a" stroke-width="0.75" stroke-linecap="round"/>
<path d="M181.4 190.2L183.7 190.6L186.0 190.8L188.2 191.1L190.4 191.7L192.6 192.4L194.7 193.3L196.7 194.3L198.8 195.4L200.8 196.5L202.8 197.6L204.8 198.8L206.8 200.0L208.7 201.2L210.7 202.5L212.6 203.7L214.5 205.0L216.4 206.3L218.3 207.6L220.2 209.0L222.1 210.3L224.0 211.7L225.9 213.0L227.7 214.4L229.6 215.8L231.5 217.1L233.3 218.5L235.2 219.9L237.1 221.3L238.9 222.7L240.8 224.0L242.7 225.4L244.5 226.8L246.4 228.2L248.2 229.6L250.0 231.1L251.8 232.5L253.6 234.0L255.4 235.4L257.1 237.0L258.9 238.5L260.6 240.0L262.3 241.6L264.0 243.1L265.7 244.7L267.4 246.3L269.0 247.9L270.6 249.6L272.2 251.2L273.8 252.9L275.3 254.7L276.8 256.4L278.2 258.2L279.7 260.0L281.0 261.8L282.4 263.7L283.6 265.6L284.9 267.5L286.1 269.5L287.3 271.4L288.5 273.4L289.6 275.4L290.7 277.5L291.8 279.5L292.8 281.5L293.8 283.6L294.7 285.7L295.4 287.9L296.1 290.1L296.7 292.3L297.4 294.5L298.2 296.6L298.9 298.8L299.6 301.0L300.2 303.2L300.7 305.4L301.2 307.6L301.7 309.9L302.2 312.2L302.6 314.4L305.2 313.9L304.7 311.7L304.2 309.4L303.8 307.1L303.4 304.8L303.0 302.5L302.4 300.2L301.8 297.9L301.1 295.7L300.4 293.5L299.6 291.3L298.6 289.1L297.6 287.0L296.5 284.9L295.6 282.8L294.6 280.7L293.6 278.6L292.5 276.5L291.4 274.4L290.3 272.4L289.1 270.4L287.9 268.4L286.7 266.4L285.5 264.4L284.2 262.4L282.8 260.5L281.4 258.6L280.0 256.8L278.5 255.0L277.0 253.2L275.4 251.4L273.8 249.7L272.2 248.0L270.5 246.4L268.9 244.7L267.2 243.1L265.5 241.5L263.8 240.0L262.1 238.4L260.3 236.8L258.6 235.3L256.8 233.8L255.0 232.3L253.2 230.8L251.3 229.4L249.5 227.9L247.7 226.5L245.8 225.1L243.9 223.7L242.1 222.3L240.2 221.0L238.3 219.6L236.5 218.2L234.6 216.8L232.7 215.4L230.9 214.1L229.0 212.7L227.1 211.3L225.2 210.0L223.3 208.6L221.4 207.3L219.5 206.0L217.6 204.6L215.6 203.3L213.7 202.1L211.7 200.8L209.7 199.6L207.8 198.3L205.7 197.2L203.7 196.0L201.7 194.9L199.6 193.8L197.4 192.9L195.3 191.9L193.0 191.1L190.8 190.5L188.4 190.1L186.1 189.9L183.7 189.8L181.4 189.7Z" fill="#fff" stroke="#fff" stroke-width="0.3"/>
<path d="M181.5 188.6L183.8 189.0L186.1 189.2L188.5 189.6L190.8 190.1L193.2 190.8L195.4 191.6L197.6 192.5L199.7 193.5L201.8 194.6L203.9 195.7L205.9 196.9L207.9 198.0L209.9 199.3L211.9 200.5L213.9 201.8" fill="none" stroke="#2a2a2a" stroke-width="0.75" stroke-linecap="round"/>
<path d="M192.2 188.2L194.4 188.6L196.6 189.0L198.8 189.3L201.0 189.9L203.1 190.6L205.1 191.4L207.1 192.4L209.1 193.5L211.0 194.6L213.0 195.7L214.9 196.9L216.8 198.1L218.7 199.3L220.6 200.5L222.5 201.7L224.4 203.0L226.3 204.2L228.1 205.5L230.0 206.8L231.8 208.1L233.7 209.4L235.5 210.7L237.3 212.0L239.1 213.4L241.0 214.7L242.8 216.1L244.6 217.4L246.4 218.7L248.2 220.1L250.0 221.4L251.8 222.8L253.6 224.2L255.4 225.6L257.2 227.0L259.0 228.4L260.7 229.8L262.4 231.2L264.1 232.7L265.8 234.2L267.5 235.7L269.1 237.2L270.8 238.8L272.4 240.3L274.0 241.9L275.6 243.5L277.2 245.1L278.8 246.7L280.3 248.3L281.8 250.0L283.2 251.7L284.6 253.4L286.0 255.2L287.3 257.0L288.6 258.9L289.8 260.7L291.0 262.6L292.2 264.5L293.3 266.5L294.3 268.4L295.4 270.4L296.4 272.4L297.4 274.4L298.4 276.5L299.3 278.5L300.1 280.5L300.7 282.7L301.3 284.9L301.8 287.0L302.4 289.2L303.0 291.3L303.7 293.5L304.3 295.6L304.8 297.8L305.3 299.9L305.7 302.1L306.1 304.3L306.4 306.6L306.8 308.8L306.9 310.9L309.5 310.7L309.3 308.5L309.0 306.2L308.7 304.0L308.4 301.7L308.1 299.4L307.6 297.2L307.1 294.9L306.6 292.7L306.0 290.5L305.4 288.3L304.6 286.2L303.8 284.0L302.9 281.9L302.0 279.8L301.1 277.7L300.2 275.6L299.3 273.5L298.3 271.5L297.3 269.5L296.2 267.4L295.2 265.4L294.0 263.4L292.9 261.5L291.7 259.5L290.4 257.6L289.1 255.7L287.8 253.9L286.4 252.1L284.9 250.3L283.5 248.5L281.9 246.8L280.4 245.2L278.8 243.5L277.2 241.9L275.6 240.3L274.0 238.7L272.3 237.1L270.6 235.6L269.0 234.1L267.3 232.6L265.6 231.1L263.8 229.6L262.1 228.1L260.3 226.7L258.5 225.3L256.7 223.9L254.9 222.5L253.1 221.1L251.3 219.7L249.5 218.4L247.7 217.0L245.9 215.7L244.0 214.3L242.2 213.0L240.4 211.7L238.6 210.3L236.7 209.0L234.9 207.7L233.0 206.4L231.1 205.1L229.3 203.8L227.4 202.5L225.5 201.3L223.6 200.1L221.7 198.8L219.8 197.6L217.8 196.4L215.9 195.3L213.9 194.1L211.9 193.0L209.9 191.9L207.8 191.0L205.7 190.1L203.5 189.2L201.3 188.6L199.0 188.2L196.7 188.0L194.5 187.9L192.2 187.7Z" fill="#fff" stroke="#fff" stroke-width="0.3"/>
<path d="M192.4 186.6L194.6 187.0L196.8 187.4L199.1 187.7L201.4 188.3L203.7 188.9L205.8 189.7L208.0 190.6L210.0 191.6L212.1 192.7L214.1 193.8L216.1 195.0L218.0 196.1L219.9 197.3L221.9 198.5L223.8 199.8" fill="none" stroke="#2a2a2a" stroke-width="0.75" stroke-linecap="round"/>
<path d="M202.9 186.2L205.1 186.7L207.3 187.2L209.4 187.6L211.5 188.0L213.6 188.6L215.6 189.4L217.6 190.3L219.5 191.4L221.4 192.5L223.2 193.6L225.1 194.8L227.0 196.0L228.8 197.2L230.7 198.4L232.5 199.6L234.4 200.8L236.2 202.0L238.0 203.2L239.8 204.4L241.6 205.7L243.5 206.9L245.2 208.2L247.0 209.5L248.8 210.8L250.6 212.1L252.3 213.4L254.1 214.7L255.9 216.1L257.6 217.4L259.3 218.8L261.0 220.2L262.8 221.5L264.5 222.9L266.2 224.3L267.8 225.7L269.5 227.2L271.1 228.6L272.8 230.1L274.4 231.6L276.0 233.1L277.6 234.6L279.1 236.1L280.7 237.6L282.2 239.2L283.8 240.8L285.3 242.3L286.7 244.0L288.2 245.6L289.6 247.2L291.0 248.9L292.3 250.6L293.6 252.4L294.8 254.2L296.0 256.0L297.2 257.8L298.3 259.7L299.4 261.6L300.4 263.5L301.5 265.4L302.5 267.4L303.4 269.3L304.3 271.3L305.1 273.4L305.9 275.4L306.5 277.5L307.0 279.6L307.4 281.8L307.8 283.9L308.3 286.0L308.8 288.2L309.3 290.3L309.8 292.4L310.2 294.6L310.6 296.7L310.9 298.9L311.1 301.0L311.3 303.2L311.5 305.4L311.3 307.5L313.9 307.5L313.8 305.3L313.5 303.0L313.4 300.8L313.2 298.6L313.0 296.4L312.7 294.1L312.3 291.9L311.9 289.8L311.5 287.6L311.0 285.4L310.5 283.2L309.8 281.1L309.1 279.0L308.3 276.9L307.5 274.8L306.7 272.7L305.9 270.7L305.0 268.6L304.1 266.6L303.3 264.5L302.3 262.5L301.4 260.5L300.3 258.5L299.3 256.6L298.2 254.6L297.0 252.7L295.7 250.9L294.4 249.0L293.1 247.2L291.7 245.5L290.3 243.8L288.8 242.1L287.3 240.5L285.7 238.9L284.2 237.3L282.6 235.7L281.0 234.2L279.4 232.7L277.7 231.2L276.1 229.7L274.4 228.2L272.8 226.7L271.1 225.3L269.3 223.9L267.6 222.6L265.8 221.2L264.1 219.9L262.3 218.5L260.5 217.2L258.7 215.9L257.0 214.6L255.2 213.3L253.4 212.0L251.6 210.7L249.8 209.4L248.0 208.1L246.2 206.8L244.4 205.5L242.6 204.3L240.8 203.0L238.9 201.8L237.1 200.6L235.3 199.4L233.4 198.2L231.5 197.0L229.7 195.8L227.8 194.7L225.9 193.5L224.0 192.4L222.1 191.3L220.1 190.3L218.1 189.3L216.1 188.4L214.0 187.5L211.8 186.8L209.6 186.3L207.4 186.1L205.2 185.9L203.1 185.6Z" fill="#fff" stroke="#fff" stroke-width="0.3"/>
<path d="M203.3 184.4L205.4 184.9L207.5 185.4L209.7 185.8L211.9 186.4L214.1 187.2L216.2 188.1L218.3 189.0L220.3 190.0L222.2 191.0L224.2 192.1L226.1 193.2L228.0 194.4L229.8 195.5L231.7 196.7L233.6 197.9" fill="none" stroke="#2a2a2a" stroke-width="0.75" stroke-linecap="round"/>
<path d="M215.7 187.9L217.7 188.5L219.7 188.9L221.7 189.4L223.6 189.9L225.5 190.5L227.4 191.3L229.3 192.2L231.1 193.2L232.8 194.2L234.6 195.3L236.3 196.3L238.0 197.5L239.7 198.6L241.4 199.7L243.1 200.9L244.8 202.1L246.5 203.2L248.2 204.4L249.9 205.6L251.5 206.8L253.2 208.0L254.8 209.2L256.5 210.4L258.1 211.7L259.7 212.9L261.4 214.2L263.0 215.4L264.6 216.7L266.2 218.0L267.8 219.2L269.4 220.5L271.0 221.8L272.6 223.1L274.2 224.4L275.7 225.8L277.2 227.1L278.7 228.5L280.2 229.9L281.7 231.3L283.1 232.7L284.6 234.1L286.0 235.6L287.4 237.1L288.8 238.5L290.2 240.0L291.5 241.6L292.9 243.1L294.2 244.7L295.4 246.2L296.7 247.8L297.9 249.5L299.0 251.1L300.1 252.8L301.2 254.6L302.2 256.3L303.2 258.1L304.2 259.9L305.1 261.7L306.1 263.5L306.9 265.3L307.8 267.2L308.6 269.0L309.4 270.9L310.2 272.8L310.8 274.7L311.3 276.7L311.7 278.7L312.2 280.7L312.6 282.7L313.1 284.7L313.5 286.7L313.9 288.6L314.3 290.6L314.6 292.6L314.9 294.6L315.1 296.7L315.2 298.7L315.2 300.7L315.0 302.7L317.3 302.8L317.2 300.7L317.1 298.6L317.0 296.5L316.9 294.5L316.7 292.4L316.4 290.3L316.1 288.2L315.7 286.2L315.3 284.2L314.8 282.2L314.3 280.1L313.7 278.2L313.0 276.2L312.3 274.2L311.7 272.3L311.1 270.3L310.3 268.3L309.6 266.4L308.8 264.5L308.0 262.6L307.2 260.7L306.3 258.8L305.3 256.9L304.3 255.1L303.3 253.3L302.2 251.5L301.0 249.8L299.8 248.1L298.6 246.4L297.4 244.7L296.1 243.1L294.7 241.5L293.4 239.9L292.0 238.4L290.6 236.9L289.2 235.3L287.8 233.9L286.4 232.4L284.9 230.9L283.4 229.5L281.9 228.0L280.4 226.6L278.9 225.2L277.3 223.9L275.7 222.5L274.2 221.2L272.5 219.9L270.9 218.6L269.3 217.4L267.6 216.2L266.0 214.9L264.3 213.7L262.6 212.5L261.0 211.3L259.3 210.1L257.6 208.9L255.9 207.7L254.2 206.6L252.5 205.4L250.8 204.3L249.1 203.1L247.3 202.0L245.6 200.9L243.9 199.8L242.1 198.7L240.4 197.6L238.7 196.5L236.9 195.4L235.1 194.3L233.3 193.3L231.5 192.4L229.7 191.4L227.8 190.5L225.9 189.7L223.9 189.0L221.9 188.5L219.9 188.1L217.8 187.8L215.8 187.5Z" fill="#fff" stroke="#fff" stroke-width="0.3"/>
<path d="M216.1 186.5L218.0 187.0L220.0 187.5L222.0 188.1L224.0 188.7L226.0 189.4L227.9 190.2L229.8 191.1L231.7 192.0L233.5 193.0L235.3 194.0L237.1 195.1L238.8 196.2L240.6 197.3L242.3 198.4L244.1 199.5" fill="none" stroke="#2a2a2a" stroke-width="0.75" stroke-linecap="round"/>
<path d="M227.4 189.5L229.2 190.1L231.0 190.7L232.8 191.2L234.6 191.8L236.4 192.5L238.1 193.3L239.8 194.1L241.5 195.1L243.1 196.0L244.7 197.0L246.3 198.1L247.9 199.2L249.5 200.3L251.0 201.4L252.6 202.5L254.2 203.6L255.7 204.7L257.3 205.8L258.9 206.9L260.5 208.0L262.0 209.1L263.6 210.2L265.1 211.3L266.6 212.5L268.2 213.6L269.7 214.8L271.2 215.9L272.7 217.1L274.2 218.3L275.7 219.5L277.2 220.7L278.7 221.9L280.1 223.1L281.6 224.4L283.0 225.7L284.4 226.9L285.7 228.3L287.1 229.6L288.4 231.0L289.7 232.3L291.0 233.7L292.3 235.1L293.6 236.5L294.8 238.0L296.1 239.4L297.3 240.9L298.4 242.3L299.6 243.8L300.8 245.3L301.9 246.9L302.9 248.4L304.0 250.0L305.0 251.6L306.0 253.2L306.9 254.9L307.8 256.6L308.7 258.2L309.5 260.0L310.3 261.7L311.1 263.4L311.8 265.2L312.5 266.9L313.2 268.7L313.9 270.5L314.5 272.3L315.1 274.1L315.6 275.9L316.0 277.8L316.5 279.6L316.9 281.5L317.3 283.3L317.6 285.2L318.0 287.1L318.2 288.9L318.5 290.8L318.6 292.7L318.7 294.6L318.7 296.5L318.4 298.3L320.5 298.4L320.4 296.5L320.3 294.6L320.3 292.6L320.2 290.7L320.1 288.7L319.8 286.8L319.6 284.9L319.2 283.0L318.9 281.0L318.4 279.2L318.0 277.3L317.4 275.4L316.8 273.6L316.3 271.7L315.8 269.8L315.2 268.0L314.5 266.2L313.8 264.4L313.1 262.6L312.3 260.8L311.5 259.0L310.6 257.3L309.8 255.5L308.8 253.8L307.9 252.1L306.9 250.5L305.8 248.8L304.8 247.2L303.7 245.6L302.6 244.0L301.4 242.5L300.2 240.9L299.0 239.4L297.8 237.9L296.6 236.5L295.3 235.0L294.0 233.6L292.7 232.1L291.4 230.7L290.1 229.3L288.7 227.9L287.4 226.6L286.0 225.3L284.5 223.9L283.1 222.7L281.6 221.4L280.1 220.2L278.6 218.9L277.1 217.7L275.6 216.6L274.1 215.4L272.5 214.2L271.0 213.1L269.5 211.9L267.9 210.7L266.4 209.6L264.8 208.5L263.2 207.4L261.7 206.3L260.1 205.2L258.5 204.1L256.9 203.0L255.3 201.9L253.7 200.9L252.1 199.8L250.5 198.8L248.8 197.7L247.2 196.7L245.5 195.8L243.8 194.9L242.1 194.0L240.3 193.1L238.6 192.3L236.8 191.6L234.9 190.9L233.1 190.4L231.2 189.9L229.4 189.5L227.5 189.1Z" fill="#fff" stroke="#fff" stroke-width="0.3"/>
<path d="M227.8 188.2L229.6 188.8L231.4 189.4L233.2 190.0L235.0 190.6L236.9 191.2L238.7 192.0L240.5 192.8L242.2 193.7L243.9 194.6L245.7 195.5L247.4 196.4L249.0 197.5L250.7 198.5L252.3 199.5L253.9 200.6" fill="none" stroke="#2a2a2a" stroke-width="0.75" stroke-linecap="round"/>
<path d="M237.8 191.0L239.4 191.7L241.1 192.3L242.8 193.0L244.4 193.7L246.0 194.4L247.6 195.1L249.2 195.9L250.8 196.8L252.3 197.7L253.9 198.6L255.4 199.5L256.8 200.5L258.3 201.5L259.8 202.6L261.2 203.6L262.7 204.6L264.2 205.7L265.6 206.7L267.1 207.7L268.6 208.8L270.0 209.8L271.5 210.9L272.9 211.9L274.4 213.0L275.8 214.1L277.2 215.2L278.6 216.3L280.1 217.4L281.5 218.5L282.8 219.6L284.2 220.8L285.6 221.9L286.9 223.1L288.2 224.3L289.5 225.5L290.8 226.8L292.0 228.1L293.2 229.3L294.4 230.7L295.6 232.0L296.8 233.3L297.9 234.7L299.1 236.0L300.2 237.4L301.3 238.8L302.4 240.2L303.5 241.6L304.5 243.1L305.5 244.5L306.5 246.0L307.5 247.5L308.5 249.0L309.4 250.5L310.3 252.1L311.1 253.6L312.0 255.2L312.7 256.8L313.5 258.4L314.2 260.0L314.9 261.7L315.6 263.3L316.2 265.0L316.8 266.6L317.4 268.3L318.0 270.0L318.5 271.7L319.0 273.5L319.5 275.2L319.9 276.9L320.3 278.6L320.7 280.4L321.0 282.1L321.3 283.9L321.5 285.6L321.7 287.4L321.8 289.1L321.8 290.9L321.7 292.7L321.5 294.5L323.2 294.6L323.2 292.7L323.3 290.9L323.3 289.1L323.2 287.3L323.1 285.5L322.9 283.7L322.7 281.8L322.4 280.0L322.0 278.3L321.6 276.5L321.2 274.7L320.7 273.0L320.2 271.2L319.7 269.5L319.2 267.7L318.6 266.0L318.0 264.3L317.3 262.6L316.7 260.9L316.0 259.3L315.3 257.6L314.5 255.9L313.7 254.3L312.9 252.7L312.0 251.1L311.1 249.5L310.1 248.0L309.2 246.4L308.2 244.9L307.2 243.4L306.1 241.9L305.1 240.4L304.0 239.0L302.9 237.6L301.8 236.1L300.7 234.7L299.6 233.3L298.4 231.9L297.2 230.6L296.0 229.2L294.8 227.9L293.5 226.6L292.3 225.3L290.9 224.0L289.6 222.8L288.3 221.6L286.9 220.4L285.5 219.2L284.1 218.1L282.7 217.0L281.3 215.9L279.8 214.8L278.4 213.7L276.9 212.6L275.5 211.5L274.0 210.4L272.6 209.4L271.1 208.3L269.6 207.3L268.2 206.2L266.7 205.2L265.2 204.2L263.7 203.1L262.3 202.1L260.8 201.1L259.3 200.1L257.8 199.1L256.3 198.1L254.7 197.2L253.1 196.3L251.5 195.4L249.9 194.6L248.2 193.8L246.6 193.1L244.9 192.4L243.1 191.9L241.4 191.4L239.7 191.0L237.9 190.5Z" fill="#fff" stroke="#fff" stroke-width="0.3"/>
<path d="M238.3 189.5L239.9 190.2L241.6 190.8L243.3 191.5L245.0 192.1L246.7 192.8L248.4 193.5L250.0 194.3L251.7 195.1L253.3 196.0L254.8 196.9L256.4 197.8L258.0 198.8L259.5 199.8L261.0 200.8L262.5 201.8" fill="none" stroke="#2a2a2a" stroke-width="0.75" stroke-linecap="round"/>
<path d="M246.7 192.3L248.2 193.0L249.8 193.7L251.3 194.4L252.8 195.1L254.3 195.8L255.9 196.5L257.4 197.3L258.8 198.1L260.3 198.9L261.8 199.8L263.2 200.6L264.6 201.6L265.9 202.5L267.3 203.5L268.7 204.5L270.1 205.5L271.4 206.5L272.8 207.5L274.2 208.5L275.6 209.4L277.0 210.4L278.3 211.4L279.7 212.4L281.0 213.4L282.4 214.5L283.7 215.5L285.1 216.5L286.4 217.6L287.7 218.7L289.0 219.7L290.3 220.8L291.5 221.9L292.8 223.1L294.0 224.2L295.2 225.4L296.3 226.6L297.5 227.8L298.6 229.1L299.7 230.3L300.7 231.6L301.8 232.9L302.8 234.2L303.9 235.6L304.9 236.9L305.9 238.3L306.9 239.6L307.8 241.0L308.8 242.4L309.7 243.8L310.6 245.2L311.5 246.6L312.3 248.1L313.2 249.5L314.0 251.0L314.8 252.5L315.6 254.0L316.3 255.5L317.0 257.0L317.6 258.6L318.3 260.1L318.9 261.7L319.4 263.3L320.0 264.9L320.5 266.5L321.0 268.1L321.5 269.7L322.0 271.3L322.4 272.9L322.9 274.5L323.2 276.2L323.6 277.8L323.8 279.5L324.1 281.1L324.2 282.8L324.4 284.5L324.4 286.1L324.4 287.8L324.3 289.4L324.1 291.1L325.6 291.2L325.7 289.5L325.8 287.8L325.9 286.1L325.8 284.4L325.7 282.7L325.5 281.0L325.3 279.2L325.1 277.5L324.7 275.9L324.4 274.2L323.9 272.5L323.5 270.9L323.0 269.2L322.5 267.6L322.0 266.0L321.5 264.4L320.9 262.7L320.3 261.1L319.7 259.5L319.1 258.0L318.4 256.4L317.7 254.8L317.0 253.3L316.2 251.7L315.4 250.2L314.6 248.7L313.7 247.3L312.9 245.8L312.0 244.3L311.1 242.9L310.2 241.5L309.2 240.1L308.3 238.6L307.3 237.3L306.3 235.9L305.3 234.5L304.2 233.2L303.2 231.8L302.1 230.5L301.0 229.2L299.9 227.9L298.8 226.6L297.6 225.4L296.4 224.1L295.2 223.0L293.9 221.8L292.6 220.7L291.4 219.5L290.0 218.5L288.7 217.4L287.4 216.3L286.0 215.3L284.7 214.2L283.3 213.2L282.0 212.2L280.6 211.2L279.3 210.1L277.9 209.1L276.5 208.2L275.1 207.2L273.7 206.2L272.4 205.2L271.0 204.2L269.6 203.2L268.2 202.2L266.8 201.3L265.4 200.3L264.0 199.3L262.5 198.5L261.0 197.7L259.5 196.8L258.0 196.0L256.5 195.3L254.9 194.6L253.3 193.9L251.7 193.3L250.1 192.8L248.5 192.3L246.9 191.8Z" fill="#fff" stroke="#fff" stroke-width="0.3"/>
<path d="M247.3 190.7L248.8 191.4L250.4 192.2L251.9 192.9L253.5 193.6L255.1 194.2L256.6 195.0L258.2 195.7L259.7 196.5L261.2 197.4L262.7 198.2L264.2 199.0L265.6 200.0L267.0 201.0L268.4 202.0L269.8 203.0" fill="none" stroke="#2a2a2a" stroke-width="0.75" stroke-linecap="round"/>
<path d="M253.8 193.2L255.3 193.9L256.7 194.7L258.1 195.4L259.5 196.2L261.0 196.9L262.4 197.6L263.8 198.3L265.2 199.1L266.6 199.9L268.0 200.7L269.4 201.5L270.7 202.4L272.0 203.3L273.3 204.3L274.6 205.2L275.9 206.2L277.2 207.1L278.5 208.1L279.8 209.0L281.1 210.0L282.4 210.9L283.7 211.9L285.0 212.8L286.3 213.8L287.6 214.8L288.9 215.8L290.1 216.8L291.4 217.8L292.6 218.8L293.8 219.8L295.0 220.9L296.2 221.9L297.4 223.0L298.5 224.1L299.7 225.3L300.7 226.4L301.8 227.6L302.8 228.8L303.8 230.1L304.8 231.3L305.8 232.6L306.8 233.9L307.7 235.2L308.6 236.5L309.5 237.8L310.4 239.2L311.3 240.5L312.1 241.9L313.0 243.2L313.8 244.6L314.6 246.0L315.4 247.4L316.2 248.8L317.0 250.2L317.7 251.6L318.4 253.0L319.1 254.5L319.7 256.0L320.3 257.4L320.9 258.9L321.4 260.4L322.0 261.9L322.5 263.5L323.0 265.0L323.4 266.5L323.9 268.1L324.4 269.6L324.8 271.2L325.2 272.7L325.6 274.2L325.9 275.8L326.1 277.4L326.3 278.9L326.5 280.5L326.6 282.1L326.6 283.7L326.5 285.3L326.4 286.9L326.2 288.5L327.5 288.6L327.6 287.0L327.8 285.4L327.9 283.7L327.9 282.1L327.8 280.4L327.6 278.8L327.4 277.2L327.2 275.6L326.9 274.0L326.5 272.4L326.1 270.8L325.7 269.2L325.2 267.7L324.8 266.1L324.3 264.6L323.8 263.0L323.3 261.5L322.7 260.0L322.2 258.4L321.6 256.9L321.0 255.4L320.3 253.9L319.7 252.4L318.9 251.0L318.2 249.5L317.4 248.1L316.6 246.7L315.8 245.3L315.0 243.9L314.2 242.5L313.3 241.1L312.5 239.7L311.6 238.4L310.7 237.0L309.8 235.7L308.9 234.4L307.9 233.0L307.0 231.7L306.0 230.4L305.0 229.2L304.0 227.9L302.9 226.7L301.8 225.5L300.7 224.3L299.6 223.1L298.4 222.0L297.2 220.9L296.0 219.8L294.8 218.7L293.5 217.7L292.3 216.7L291.0 215.7L289.7 214.7L288.4 213.7L287.1 212.7L285.8 211.7L284.5 210.8L283.2 209.8L281.9 208.9L280.6 207.9L279.3 207.0L278.0 206.0L276.7 205.1L275.4 204.1L274.1 203.2L272.8 202.2L271.5 201.3L270.1 200.3L268.7 199.5L267.3 198.8L265.9 198.0L264.4 197.2L263.0 196.5L261.5 195.8L260.0 195.1L258.5 194.5L257.0 194.0L255.5 193.4L254.0 192.9Z" fill="#fff" stroke="#fff" stroke-width="0.3"/>
<path d="M254.4 192.0L255.8 192.7L257.3 193.4L258.7 194.1L260.2 194.8L261.7 195.5L263.1 196.2L264.6 196.9L266.0 197.7L267.4 198.5L268.9 199.2L270.3 200.0L271.7 201.0L273.0 201.9L274.3 202.9L275.6 203.8" fill="none" stroke="#2a2a2a" stroke-width="0.75" stroke-linecap="round"/>
<path d="M257.9 193.7L259.3 194.5L260.7 195.2L262.0 196.0L263.4 196.8L264.8 197.5L266.2 198.2L267.6 198.9L268.9 199.7L270.3 200.5L271.7 201.2L273.0 202.0L274.2 202.9L275.5 203.8L276.7 204.7L278.0 205.7L279.3 206.6L280.5 207.5L281.8 208.4L283.1 209.4L284.3 210.3L285.6 211.2L286.8 212.1L288.1 213.1L289.3 214.0L290.6 214.9L291.8 215.9L293.0 216.9L294.3 217.9L295.5 218.8L296.6 219.9L297.8 220.9L299.0 221.9L300.1 223.0L301.2 224.1L302.2 225.2L303.3 226.4L304.3 227.5L305.3 228.7L306.2 230.0L307.2 231.2L308.1 232.4L309.0 233.7L309.9 235.0L310.8 236.3L311.6 237.6L312.4 238.9L313.3 240.2L314.1 241.6L314.9 242.9L315.6 244.3L316.4 245.6L317.2 247.0L317.9 248.3L318.7 249.7L319.4 251.1L320.0 252.5L320.7 253.9L321.3 255.3L321.9 256.8L322.4 258.2L322.9 259.7L323.4 261.2L323.9 262.6L324.4 264.1L324.8 265.6L325.3 267.1L325.7 268.6L326.2 270.1L326.6 271.6L326.9 273.1L327.2 274.6L327.4 276.2L327.6 277.7L327.7 279.2L327.9 280.8L327.9 282.3L327.8 283.8L327.6 285.4L327.4 286.9L328.6 287.1L328.7 285.5L328.9 283.9L329.0 282.3L329.0 280.7L328.9 279.2L328.8 277.6L328.6 276.0L328.4 274.4L328.1 272.9L327.8 271.3L327.4 269.8L326.9 268.3L326.5 266.8L326.0 265.3L325.6 263.8L325.1 262.3L324.6 260.8L324.1 259.3L323.6 257.8L323.0 256.3L322.5 254.9L321.8 253.4L321.2 252.0L320.5 250.5L319.8 249.1L319.0 247.7L318.3 246.4L317.5 245.0L316.7 243.6L316.0 242.3L315.2 240.9L314.4 239.6L313.5 238.2L312.7 236.9L311.8 235.6L311.0 234.3L310.1 233.0L309.2 231.7L308.2 230.4L307.3 229.1L306.3 227.9L305.3 226.7L304.3 225.5L303.2 224.3L302.1 223.2L301.0 222.0L299.8 221.0L298.7 219.9L297.5 218.9L296.3 217.9L295.1 216.9L293.8 215.9L292.6 214.9L291.4 213.9L290.1 213.0L288.9 212.1L287.6 211.1L286.3 210.2L285.1 209.3L283.8 208.3L282.5 207.4L281.3 206.5L280.0 205.6L278.7 204.7L277.5 203.7L276.2 202.8L275.0 201.8L273.7 200.9L272.3 200.1L270.9 199.4L269.5 198.6L268.1 197.9L266.7 197.2L265.3 196.5L263.9 195.8L262.4 195.2L261.0 194.6L259.5 194.0L258.1 193.5Z" fill="#fff" stroke="#fff" stroke-width="0.3"/>
<path d="M258.4 192.8L259.8 193.4L261.2 194.1L262.6 194.8L264.1 195.5L265.5 196.2L266.9 196.9L268.3 197.6L269.7 198.3L271.0 199.1L272.4 199.8L273.8 200.6L275.2 201.5L276.5 202.5L277.7 203.4L279.0 204.4L280.2 205.3L281.5 206.2L282.7 207.1L284.0 208.1L285.3 209.0L286.5 209.9L287.8 210.8L289.1 211.8L290.3 212.7L291.6 213.7L292.8 214.6L294.1 215.6L295.3 216.6L296.5 217.6L297.7 218.6L298.9 219.7L300.1 220.7L301.2 221.8L302.4 222.9L303.5 224.1L304.5 225.3L305.6 226.5L306.6 227.7L307.6 228.9L308.5 230.2L309.5 231.5L310.4 232.8L311.3 234.1L312.1 235.4L313.0 236.7L313.8 238.0L314.7 239.4L315.5 240.7L316.3 242.1L317.1 243.4L317.8 244.8L318.6 246.2L319.3 247.6L320.1 249.0L320.8 250.4L321.5 251.8L322.2 253.3L322.8 254.7L323.4 256.2L323.9 257.7L324.5 259.2L325.0 260.7L325.4 262.2L325.9 263.7L326.4 265.2L326.8 266.7L327.3 268.2L327.7 269.7L328.1 271.2L328.5 272.8L328.8 274.4L329.0 276.0L329.2 277.5L329.3 279.1L329.4 280.7L329.4 282.4L329.2 284.0L329.0 285.5L328.9 287.1" fill="none" stroke="#2a2a2a" stroke-width="0.75" stroke-linecap="round"/>
<!-- cover outline -->
<path class="o" d="M327 290Q325 297 321 302.5L282 327Q262 335 240 337.5Q215 341 196 340.6" />
<path class="o" d="M89.2 278.3Q87.6 272 89.2 265Q91 260.6 98.3 259.2Q103 259 108.3 260.8Q115 263 121.7 266.7Q128 270 133.3 273.3Q144 280 155 288.3Q164 296 173.3 306.7Q181 315.6 188.3 325Q192.6 331 196 340.4"/>
<path class="o" d="M90 279.4L110.8 293L112.5 287.5L99.6 278Q95.6 275.6 92.6 277.4Q90.6 278.4 90 279.4Z" stroke-width="0.95"/>
<path class="o" d="M112.5 288L130.6 297.5L147.5 307.6L161.7 315.8L175 325M133 273.3L130.8 297.5" stroke-width="0.95"/>
<path class="o" d="M131.6 298.3L132.5 304.2L147.5 311.7L147.5 307.6M147.8 308.6L148.4 313.3L160 320.8L161.7 315.8M175 325L175.8 331.7L184.2 339.7L185.8 335.8M184.2 339.7Q190 340.6 196 340.4" stroke-width="0.95"/>
<path d="M160 320.6L161.6 316" stroke="#111" stroke-width="1.6" fill="none"/>
<path class="l" d="M127.5 210.8Q131 207.5 137 206.4"/>
<path class="l" d="M103.5 237.5Q98 244 96.5 252M101.6 241L98.6 250M99.6 243.6L97.6 250M94.5 255Q91 262 89.5 268" stroke-width="0.6"/>
</g>
<g id="driver">
<!-- screwdriver -->
<path class="of" d="M311 114.5Q310.6 111 313 108.4Q315 106.6 318.6 106.6Q322.4 106.6 324.4 108.4Q326.8 111 326.6 114.5Q329.4 121 330 128Q330.3 132 329.4 137Q329.4 141 328.6 146Q327.6 150 326 153Q325 157 325.2 161.4L325.4 163.6L321.6 164.6L321.2 168L320.6 211Q320 214.6 318 215.6Q316.2 214.6 315.6 211L315 168L314.6 164.6L311 163.6L311.2 161.4Q311.4 157 310.4 153Q308.6 150 307.8 146Q306.8 141 307 137Q306.4 132 306.8 128Q307.6 121 311 114.5Z"/>
<ellipse class="o" cx="318.6" cy="109" rx="3.4" ry="1.7"/>
<path class="o" d="M311 114.5Q318.6 117.6 326.6 114.5M306.9 128Q318 133.6 330 128M307 137Q318 142 329.4 137M307.8 146Q318 150.6 328.6 146"/>
<path d="M311.2 161.6Q318 164.4 325.2 161.6" stroke="#1a1a1a" stroke-width="1.6" fill="none"/>
<path class="o" d="M317.2 168.6L317.6 211M319 168.6L319 211" stroke-width="0.6"/>
<!-- screws -->
<path class="k" d="M314.6 223.6Q317.6 222.2 320.6 223.6L320.2 226.4L319.2 227.2L318.8 233.6L317.6 235.8L316.6 233.6L316.2 227.2L315 226.4Z"/>
<path class="k" d="M194.4 275Q197.4 273.4 200.4 275L200 277.8L198.8 278.6L198.4 283.6L197.2 285.8L196.2 283.6L195.8 278.6L194.8 277.8Z"/>
<ellipse class="of" cx="197.2" cy="306.4" rx="3.9" ry="7.3" transform="rotate(6 197.2 306.4)" stroke-width="1"/>
</g>
<g id="part5">
<path d="M134.6 384L134.6 397.4A18.10000000000001 6.4 0 0 0 170.8 397.4L170.8 384Z" fill="#1e1e1e" stroke="#1e1e1e" stroke-width="0.8"/>
<path d="M136.1 385.2L136.1 399.0" stroke="#e4e4e4" stroke-width="0.94" fill="none"/>
<path d="M138.5 385.2L138.5 400.4" stroke="#e4e4e4" stroke-width="1.18" fill="none"/>
<path d="M141.8 385.2L141.8 401.5" stroke="#e4e4e4" stroke-width="1.36" fill="none"/>
<path d="M145.9 385.2L145.9 402.3" stroke="#e4e4e4" stroke-width="1.49" fill="none"/>
<path d="M150.4 385.2L150.4 402.7" stroke="#e4e4e4" stroke-width="1.55" fill="none"/>
<path d="M155.0 385.2L155.0 402.7" stroke="#e4e4e4" stroke-width="1.55" fill="none"/>
<path d="M159.5 385.2L159.5 402.3" stroke="#e4e4e4" stroke-width="1.49" fill="none"/>
<path d="M163.6 385.2L163.6 401.5" stroke="#e4e4e4" stroke-width="1.36" fill="none"/>
<path d="M189.4 415L189.4 431A17.5 6.2 0 0 0 224.4 431L224.4 415Z" fill="#1e1e1e" stroke="#1e1e1e" stroke-width="0.8"/>
<path d="M190.9 416.2L190.9 432.5" stroke="#e4e4e4" stroke-width="0.91" fill="none"/>
<path d="M193.2 416.2L193.2 433.8" stroke="#e4e4e4" stroke-width="1.15" fill="none"/>
<path d="M196.4 416.2L196.4 435.0" stroke="#e4e4e4" stroke-width="1.33" fill="none"/>
<path d="M200.3 416.2L200.3 435.7" stroke="#e4e4e4" stroke-width="1.44" fill="none"/>
<path d="M204.7 416.2L204.7 436.1" stroke="#e4e4e4" stroke-width="1.50" fill="none"/>
<path d="M209.1 416.2L209.1 436.1" stroke="#e4e4e4" stroke-width="1.50" fill="none"/>
<path d="M213.5 416.2L213.5 435.7" stroke="#e4e4e4" stroke-width="1.44" fill="none"/>
<path d="M217.4 416.2L217.4 435.0" stroke="#e4e4e4" stroke-width="1.33" fill="none"/>
<path d="M220.6 416.2L220.6 433.8" stroke="#e4e4e4" stroke-width="1.15" fill="none"/>
<path d="M222.9 416.2L222.9 432.5" stroke="#e4e4e4" stroke-width="0.91" fill="none"/>

<!-- left arm -->
<path class="of" d="M132.8 377Q133.4 371.5 137.6 368.6Q140.5 367 143.2 366.4L199.6 351.6L204 350.3Q205.6 347.8 209 346.6Q214 345.5 220 345.5Q229 345.6 237.5 348Q249 352.4 258.7 359.8Q269 367 276 376.4Q278 381 277.6 386Q277.2 390 275 392L260 384L243.8 384.8L237.5 389.4Q230 397 228.3 406.7L228 410Q226 416 218 418.4Q208 420 198 417.6Q189.5 414.6 188.2 408Q187.6 403 189 398L191.6 390.8L183.5 386.2L160.5 386.2L139.8 384.4Q134.4 381.6 132.8 377Z"/>
<path class="o" d="M136.3 377Q137 372.4 141 369.6M136.3 377Q137.6 380.4 141 381.6L160.5 384.4L183.5 384.4L191.5 389"/>
<path class="o" d="M147.8 368.4Q170 366.4 188 363L197.3 361.8L204 350.3" stroke-width="1"/>
<path class="o" d="M147.3 380.8Q162 380.6 172 378Q180 376 186.6 372.4"/>
<path class="l" d="M141 369.6Q145 368 147.8 368.4Q146.4 373 147.3 380.8"/>
<path class="o" d="M187 366.6L197.2 371.8L204.2 367.6M187 366.6L187 383.6M197.2 371.8L197 385.6"/>
<ellipse cx="196.7" cy="366.8" rx="1.3" ry="0.8" fill="#333"/>
<path d="M204.2 367.6L242 368.7" stroke="#111" stroke-width="1.8" fill="none"/>
<path class="o" d="M242 368.7L242.6 384.8M244 369.4L244.6 384M242 368.7L249 364.7L264.5 366"/>
<path class="o" d="M218 346.2Q228 348.6 235 352.8Q243 358 249 364.7M224 345.8Q236 348.4 245 354Q256 360.6 264.5 366Q271 371 275.4 379"/>
<!-- elbow pipe inside -->
<path class="o" d="M203.4 372Q200.6 386 201.6 401Q203.4 407.6 208.7 407.8Q213.6 407.4 214.5 402Q214.6 395 216.8 389.4Q221.6 378.6 233.6 371.8"/>
<path class="o" d="M241 373.3Q231 381.4 226 397.5M205 368.4Q196 380 192.6 392"/>
<path class="o" d="M192 408Q194 402.6 201.6 401.4M214.6 401.6Q222 402.6 223.7 407.8Q222.6 412.6 208 413.4Q193.4 412.8 192 408"/>
<path class="o" d="M195 383.7Q190.4 391 188.6 399.8" />
<path class="o" d="M189.4 411.4Q196 416.6 208 416.8Q220.6 416.4 226.6 411.6" />
<!-- saddle lower rim (double) -->
<path class="o" d="M226 405.6Q229 394 236 388Q242 383.6 249 382.4Q257 381.4 264.5 384.5Q269.6 388.4 272.5 396Q275 403.6 279 406Q285 408 291 407.5" stroke-width="1.1"/>
<path class="o" d="M229.6 407.6Q232 397 238.4 390.6Q243.6 386 250 385Q257 384.2 262.6 386.6Q267 390 269.8 397.6Q272.6 406 277.6 408.6Q284 410.6 292.6 410"/>
<!-- lower bulb -->
<path class="of" d="M237 398.3Q241 406 247.2 411Q255 416.4 264.5 417.8Q274 418.4 281.7 416.7Q289 414.6 294 411L292.6 410Q284 410.6 277.6 408.6Q272.6 406 269.8 397.6Q267 390 262.6 386.6Q257 384.2 250 385Q243.6 386 238.4 390.6Q237 394 237 398.3Z"/>
<path class="l" d="M240 392Q246 400 252 402Q258 403.6 263 400Q266 397 268 394M243.6 389.4Q250 397 256 409Q259 414 264.5 417M250 392Q258 398 262 406Q266 412 272 415.6M238.6 396Q246 398.6 250.6 404Q255 410 258 415"/>
<!-- right shoulder to connector -->
<path class="o" d="M277 384.5Q278 389 276.6 393.6Q278 401 284 404.6"/>


<path d="M279.2 378Q284 374.6 290 373.8Q296 373.6 300 375.4Q306 379.6 309.2 388Q310.4 398 306.6 405.6Q304 409.6 300.4 411.4Q301.8 408 301.2 404Q300 397 296.4 391Q292 384.6 285.4 381.4Q282.4 379.6 279.2 378Z" fill="#1c1c1c" stroke="#1c1c1c" stroke-width="1"/>
<path class="o" d="M280 377.6Q277.6 381 278.4 385M285.4 381.4Q281 381.6 278.6 384Q284 386 288.6 392Q292.6 399 293 406Q293.4 409 292.6 410.6M296.4 391Q298 400 297.4 406Q296.6 409.6 294.6 411.2"/>
<path class="l" d="M283 382Q288 384.6 291 390Q294.6 398 294.6 408M279.6 388.6Q284.6 389 287 393.4M280 394Q284 394.4 286 397"/>
<path d="M292 377.4Q300.6 383 303.6 393Q305 402 302.6 409" stroke="#bbb" stroke-width="0.6" fill="none"/>
</g>
<g id="hose">
<!-- hose tail right -->
<path class="of" d="M309.8 367.5L313.3 366.9L316.8 366.3L320.4 365.6L321.2 366.1L324.1 365.5L327.1 364.7L330.1 363.8L331.0 364.6L333.9 363.7L336.9 362.5L340.0 361.2L341.0 362.6L343.4 361.6L345.8 360.5L348.2 359.4L349.1 360.3L351.3 359.3L353.6 358.4L355.8 357.8L356.7 358.7L358.9 358.0L361.0 357.4L363.3 356.7L364.1 357.5L366.5 356.8L368.9 356.1L371.3 355.3L371.3 355.3L372.0 355.3L372.6 355.5L373.3 355.8L373.9 356.3L374.4 357.0L374.9 357.9L375.3 358.8L375.5 359.8L375.6 360.7L375.6 361.7L375.4 362.6L375.2 363.3L374.7 364.0L374.2 364.4L373.7 364.7L373.7 364.7L371.3 365.8L369.0 366.8L366.7 367.9L366.4 369.2L364.2 370.2L362.1 371.2L360.0 372.2L359.7 373.5L357.6 374.6L355.5 376.0L353.5 377.6L353.2 379.2L350.8 380.9L348.6 382.5L346.3 384.1L346.1 386.1L343.2 387.8L340.3 389.3L337.5 390.7L337.1 392.0L334.2 393.2L331.3 394.2L328.4 395.1L328.0 395.8L324.4 396.6L320.9 397.2L317.4 397.7Z"/>
<path class="o" d="M313.3 366.9L315.4 366.7L317.5 367.3L319.6 368.4L321.6 370.2L323.4 372.4L325.0 375.1L326.2 378.1L326.9 381.3L327.3 384.5L327.2 387.6L326.7 390.4L325.7 392.9L324.4 394.9L322.8 396.4L320.9 397.2" stroke-width="1.2"/>
<path class="o" d="M316.8 366.3L318.9 366.1L321.0 366.6L323.1 367.8L325.1 369.5L326.9 371.8L328.5 374.5L329.7 377.5L330.4 380.7L330.8 383.9L330.7 387.0L330.2 389.8L329.2 392.3L327.9 394.3L326.3 395.8L324.4 396.6" stroke-width="0.7"/>
<path class="o" d="M320.4 365.6L322.5 365.4L324.6 365.9L326.7 367.1L328.7 368.8L330.5 371.1L332.1 373.8L333.3 376.8L334.1 379.9L334.4 383.1L334.3 386.2L333.8 389.1L332.8 391.6L331.5 393.6L329.9 395.0L328.0 395.8" stroke-width="0.7"/>
<path class="o" d="M321.2 366.1L323.1 365.9L325.2 366.4L327.2 367.5L329.1 369.2L330.9 371.3L332.3 373.9L333.5 376.8L334.2 379.8L334.6 382.9L334.5 385.9L334.0 388.6L333.1 391.0L331.8 392.9L330.2 394.3L328.4 395.1" stroke-width="1.2"/>
<path class="o" d="M324.1 365.5L326.1 365.3L328.1 365.8L330.1 366.9L332.0 368.5L333.7 370.7L335.2 373.2L336.3 376.1L337.1 379.1L337.4 382.1L337.3 385.1L336.8 387.8L335.9 390.1L334.7 392.0L333.1 393.4L331.3 394.2" stroke-width="1.2"/>
<path class="o" d="M327.1 364.7L329.0 364.6L331.0 365.0L333.0 366.1L334.9 367.8L336.6 369.9L338.0 372.4L339.1 375.3L339.9 378.2L340.2 381.2L340.1 384.1L339.6 386.8L338.7 389.2L337.5 391.1L336.0 392.4L334.2 393.2" stroke-width="0.7"/>
<path class="o" d="M330.1 363.8L332.0 363.7L334.0 364.1L336.0 365.2L337.9 366.8L339.5 369.0L341.0 371.5L342.1 374.2L342.8 377.2L343.1 380.2L343.0 383.0L342.6 385.7L341.7 388.0L340.4 389.9L338.9 391.2L337.1 392.0" stroke-width="0.7"/>
<path class="o" d="M331.0 364.6L332.7 364.5L334.6 364.9L336.4 365.9L338.1 367.4L339.7 369.4L341.0 371.7L342.0 374.3L342.7 377.0L343.0 379.8L342.9 382.4L342.5 384.9L341.7 387.0L340.5 388.8L339.1 390.0L337.5 390.7" stroke-width="1.2"/>
<path class="o" d="M333.9 363.7L335.7 363.5L337.5 364.0L339.3 364.9L341.0 366.4L342.5 368.3L343.8 370.6L344.8 373.2L345.5 375.8L345.8 378.6L345.7 381.2L345.3 383.6L344.5 385.7L343.3 387.4L341.9 388.6L340.3 389.3" stroke-width="1.2"/>
<path class="o" d="M336.9 362.5L338.6 362.4L340.4 362.8L342.2 363.8L343.8 365.2L345.3 367.1L346.6 369.4L347.6 371.9L348.3 374.5L348.6 377.2L348.5 379.8L348.0 382.1L347.3 384.2L346.1 385.9L344.8 387.1L343.2 387.8" stroke-width="0.7"/>
<path class="o" d="M340.0 361.2L341.6 361.1L343.4 361.5L345.1 362.5L346.8 363.9L348.3 365.8L349.5 368.0L350.5 370.4L351.1 373.0L351.4 375.6L351.3 378.2L350.9 380.5L350.1 382.5L349.0 384.2L347.7 385.4L346.1 386.1" stroke-width="0.7"/>
<path class="o" d="M341.0 362.6L342.4 362.5L343.9 362.8L345.4 363.7L346.9 364.9L348.1 366.5L349.2 368.4L350.1 370.5L350.6 372.8L350.9 375.1L350.8 377.2L350.4 379.3L349.8 381.0L348.8 382.5L347.7 383.5L346.3 384.1" stroke-width="1.2"/>
<path class="o" d="M343.4 361.6L344.8 361.5L346.3 361.8L347.7 362.6L349.1 363.8L350.4 365.4L351.4 367.3L352.2 369.3L352.8 371.5L353.0 373.7L353.0 375.9L352.6 377.8L351.9 379.6L351.0 380.9L349.9 381.9L348.6 382.5" stroke-width="1.2"/>
<path class="o" d="M345.8 360.5L347.1 360.4L348.6 360.8L350.0 361.5L351.4 362.7L352.6 364.2L353.6 366.1L354.4 368.1L354.9 370.2L355.2 372.3L355.1 374.4L354.8 376.3L354.1 378.0L353.2 379.4L352.1 380.3L350.8 380.9" stroke-width="0.7"/>
<path class="o" d="M348.2 359.4L349.6 359.3L351.0 359.6L352.4 360.4L353.7 361.5L354.9 363.0L355.9 364.8L356.6 366.7L357.1 368.8L357.4 370.9L357.3 372.9L357.0 374.8L356.4 376.4L355.5 377.7L354.4 378.6L353.2 379.2" stroke-width="0.7"/>
<path class="o" d="M349.1 360.3L350.3 360.2L351.5 360.5L352.7 361.2L353.9 362.1L354.9 363.4L355.8 365.0L356.5 366.7L356.9 368.5L357.1 370.3L357.1 372.1L356.8 373.7L356.2 375.1L355.5 376.3L354.5 377.1L353.5 377.6" stroke-width="1.2"/>
<path class="o" d="M351.3 359.3L352.5 359.2L353.7 359.5L354.8 360.1L355.9 361.1L356.9 362.3L357.8 363.8L358.4 365.5L358.9 367.2L359.1 369.0L359.0 370.7L358.7 372.3L358.2 373.6L357.5 374.7L356.6 375.5L355.5 376.0" stroke-width="1.2"/>
<path class="o" d="M353.6 358.4L354.7 358.3L355.8 358.6L356.9 359.2L358.0 360.1L359.0 361.4L359.8 362.8L360.4 364.4L360.8 366.1L361.0 367.8L361.0 369.4L360.7 371.0L360.2 372.3L359.5 373.4L358.6 374.1L357.6 374.6" stroke-width="0.7"/>
<path class="o" d="M355.8 357.8L356.9 357.8L358.0 358.0L359.1 358.6L360.1 359.5L361.0 360.7L361.8 362.1L362.4 363.6L362.8 365.3L363.0 366.9L363.0 368.5L362.7 370.0L362.2 371.2L361.5 372.3L360.7 373.0L359.7 373.5" stroke-width="0.7"/>
<path class="o" d="M356.7 358.7L357.6 358.6L358.5 358.8L359.5 359.3L360.4 360.1L361.2 361.1L361.9 362.3L362.4 363.7L362.7 365.1L362.9 366.5L362.9 367.9L362.6 369.2L362.2 370.3L361.6 371.2L360.9 371.8L360.0 372.2" stroke-width="1.2"/>
<path class="o" d="M358.9 358.0L359.8 358.0L360.7 358.2L361.6 358.7L362.5 359.4L363.3 360.4L363.9 361.6L364.4 362.9L364.8 364.3L364.9 365.7L364.9 367.0L364.7 368.2L364.3 369.3L363.7 370.2L363.0 370.8L362.1 371.2" stroke-width="1.2"/>
<path class="o" d="M361.0 357.4L361.9 357.3L362.8 357.5L363.7 358.0L364.6 358.8L365.3 359.7L366.0 360.9L366.5 362.1L366.8 363.5L367.0 364.8L366.9 366.1L366.7 367.3L366.3 368.4L365.7 369.2L365.0 369.8L364.2 370.2" stroke-width="0.7"/>
<path class="o" d="M363.3 356.7L364.1 356.6L365.0 356.9L365.9 357.3L366.7 358.0L367.4 359.0L368.1 360.1L368.6 361.3L368.9 362.6L369.0 363.9L369.0 365.2L368.8 366.4L368.4 367.4L367.8 368.2L367.2 368.8L366.4 369.2" stroke-width="0.7"/>
<path class="o" d="M364.1 357.5L364.8 357.5L365.6 357.6L366.3 358.0L367.0 358.6L367.6 359.4L368.1 360.3L368.5 361.4L368.8 362.5L368.9 363.5L368.9 364.6L368.7 365.6L368.4 366.4L367.9 367.1L367.4 367.6L366.7 367.9" stroke-width="1.2"/>
<path class="o" d="M366.5 356.8L367.2 356.8L367.9 356.9L368.6 357.3L369.3 357.9L369.9 358.6L370.4 359.5L370.7 360.5L371.0 361.6L371.1 362.6L371.1 363.6L370.9 364.6L370.6 365.4L370.2 366.1L369.6 366.6L369.0 366.8" stroke-width="1.2"/>
<path class="o" d="M368.9 356.1L369.5 356.0L370.2 356.2L370.9 356.6L371.5 357.1L372.1 357.9L372.6 358.7L373.0 359.7L373.2 360.7L373.3 361.7L373.3 362.7L373.2 363.6L372.8 364.4L372.4 365.0L371.9 365.5L371.3 365.8" stroke-width="0.7"/>
<ellipse class="of" cx="313.6" cy="382.6" rx="11.4" ry="17.2" transform="rotate(-14 313.6 382.6)" stroke-width="1.1"/>
<ellipse class="of" cx="313.6" cy="382.6" rx="9.8" ry="15.6" transform="rotate(-14 313.6 382.6)" stroke-width="0.9"/>
<!-- nut right -->
<path d="M396.5 329.0L397.7 328.4L399.0 328.1L400.3 328.1L401.8 328.3L403.2 328.8L404.6 329.7L406.1 330.7L407.5 332.1L408.8 333.7L410.1 335.4L411.2 337.4L412.3 339.5L413.2 341.8L414.0 344.1L414.7 346.5L415.2 348.9L415.5 351.4L415.6 353.7L415.6 356.0L415.4 358.2L415.0 360.2L414.5 362.1L413.8 363.7L412.9 365.2L412.0 366.4L410.9 367.3L409.6 367.9L408.4 368.3L407.0 368.4L392.1 372.4L381.2 331.9Z" fill="#1e1e1e" stroke="#1e1e1e" stroke-width="1"/>
<path d="M388.5 330.4L400.3 328.4" stroke="#e6e6e6" stroke-width="0.81" fill="none"/>
<path d="M391.5 331.6L403.1 329.5" stroke="#e6e6e6" stroke-width="0.99" fill="none"/>
<path d="M394.4 333.8L406.0 331.7" stroke="#e6e6e6" stroke-width="1.12" fill="none"/>
<path d="M397.1 337.0L408.6 334.8" stroke="#e6e6e6" stroke-width="1.21" fill="none"/>
<path d="M399.5 341.1L410.9 338.7" stroke="#e6e6e6" stroke-width="1.27" fill="none"/>
<path d="M401.4 345.7L412.8 343.2" stroke="#e6e6e6" stroke-width="1.30" fill="none"/>
<path d="M402.7 350.5L414.0 347.9" stroke="#e6e6e6" stroke-width="1.30" fill="none"/>
<path d="M403.3 355.5L414.7 352.7" stroke="#e6e6e6" stroke-width="1.27" fill="none"/>
<path d="M403.3 360.1L414.6 357.2" stroke="#e6e6e6" stroke-width="1.21" fill="none"/>
<path d="M402.5 364.3L413.9 361.3" stroke="#e6e6e6" stroke-width="1.12" fill="none"/>
<path d="M401.1 367.7L412.5 364.6" stroke="#e6e6e6" stroke-width="0.99" fill="none"/>
<path d="M399.2 370.2L410.6 367.0" stroke="#e6e6e6" stroke-width="0.81" fill="none"/>
<path d="M399.7 348.6L400.3 351.4L400.8 354.2L401.0 356.9L401.0 359.5L400.7 362.0L400.3 364.3L399.6 366.4L398.8 368.2L397.7 369.7L396.5 370.9L395.2 371.8L393.7 372.3L392.2 372.4L390.6 372.1L388.9 371.5L387.3 370.5L385.6 369.2L384.1 367.6L382.6 365.7L381.2 363.5L379.9 361.2L378.8 358.6L377.9 355.9L377.1 353.2L376.6 350.4L376.3 347.7L376.2 345.0L376.3 342.4L376.7 340.0L377.2 337.8L378.0 335.9L378.9 334.2L380.0 332.8L381.3 331.8L382.7 331.1L384.2 330.8L385.8 330.9L387.4 331.3L389.1 332.1L390.8 333.3L392.4 334.7L393.9 336.5L395.3 338.6L396.7 340.8L397.9 343.3L398.9 345.9L399.7 348.6Z" fill="#2c2c2c" stroke="#1a1a1a" stroke-width="1"/>
<ellipse class="l" cx="388.6" cy="351.6" rx="10.2" ry="19.8" transform="rotate(-15 388.6 351.6)" stroke="#c8c8c8" stroke-width="0.9"/>
<ellipse cx="395.2" cy="351.2" rx="6.8" ry="16.4" transform="rotate(-15 395.2 351.2)" fill="#fdfdfd" stroke="#111" stroke-width="0.8"/>
<ellipse cx="395.0" cy="351.2" rx="5.3" ry="14.8" transform="rotate(-15 395.2 351.2)" fill="none" stroke="#3a3a3a" stroke-width="1.7" stroke-dasharray="1.6 1.1"/>
<ellipse cx="395.0" cy="351.2" rx="3.9" ry="13.4" transform="rotate(-15 395.2 351.2)" fill="none" stroke="#666" stroke-width="0.6"/>
</g>
<g id="pump">
<!-- base tray -->
<path d="M86.7 583.3Q88 575 92 569Q101.7 556.7 120 544.2Q135 538 152 534.6Q170 531.6 190 530L300 560L320 576.7Q321.6 586 321.7 595Q320.6 608 314 624Q306 644 282 657.6Q258 667.6 230 673.3Q216 676 203 676L202.6 679.4Q196 681.4 190 679.4L189.6 675Q181.7 672.5 161.7 664.2Q145 655 130 644.2Q112 634 98.3 623.3Q90 612 87.5 596.7Z" fill="#fdfdfd" stroke="none"/>
<path class="o" d="M176 531.6Q152 534.6 135 538.4Q128 540.6 120 544.2Q101.7 556.7 92 569Q88 575 86.7 583.3L87.5 596.7Q90 612 98.3 623.3Q112 634 130 644.2Q145 655 161.7 664.2Q181.7 672.5 189.6 675L190 679.4Q196 681.4 202.6 679.4L203 676Q216 676 230 673.3Q258 667.6 282 657.6Q306 644 314 624Q320.6 608 321.7 595Q321.6 586 320 576.7L306 568" stroke-width="1.1"/>
<!-- left rim -->
<path class="o" d="M89.4 583Q91 576 95 570.6Q104 559.6 121.7 547.4M92.4 583.4Q94.6 577 98 572.6Q106 562.6 122 551.4" />
<path class="l" d="M95.6 584Q98 578.6 101 574.6Q108 566 122.4 556.4M100.6 573Q110 567.6 122.4 562"/>
<path class="o" d="M121.7 543.6L122.5 565.4M118.4 545.4L119 556"/>
<path class="o" d="M86.7 583.3L93.4 585L93.3 580M88.3 593.3L94 590.6L93.4 585M90 590.8Q96 590.6 101.7 593.3Q106 596 106.7 600Q107 604.6 108.3 608.3Q112 614.6 118.3 616.7Q124 617.4 128.3 615"/>
<path class="o" d="M94 590.6Q100 591.6 104.6 588.6Q108.6 585.6 112 584"/>

<!-- handle tube -->
<path class="of" d="M283.4 474Q285 469 289.6 466.2Q294.6 465 299.4 469.6Q304.4 476 305 488L305.8 612L298.6 615L298.3 489Q298 482 294.6 479Q291 477.4 288 479.6Z"/>
<path class="l" d="M298.3 489L305 488"/>

<!-- motor housing -->
<path class="of" d="M226 486.7L256.7 478.3L280 490L293.3 486.7Q296.4 489 296.7 491.7L297.5 525Q296.6 528.6 293.3 530L250 544.2L238 556L226 560Z"/>
<path class="o" d="M280 490Q286 500 288.3 511.7Q288.6 521 286.7 528.3M293.6 490.6L294.6 526"/>
<path class="o" d="M223.3 485Q236 498 246.7 520Q250 532 250 544.2M231 488.6L258 481.6"/>
<path class="o" d="M222.6 497.6L247 490.6M231 512L243.4 508.6"/>
<path class="o" d="M262.6 541L270.6 551L273.4 546.6L275 560M266.4 548.4L268.6 560.4M272.6 547.4L271.6 560.6"/>
<path class="o" d="M250 544.2L253 562.6M238 556L244 569"/>

<!-- hose loops -->
<path class="o" d="M241.7 571.7Q247 564.6 256.7 562.5Q265 561.4 273.3 563.3Q283 566 290 571.7Q295 576 298 582"/>
<path class="o" d="M248.3 575Q253 569.6 260 567.5Q267 566.6 273.3 568.3Q281 571 286.6 576Q290 580 292 584"/>
<path class="o" d="M257 561Q262 569 272 574Q281 577.6 290 575.6M262 561.6Q267 568 275 571.6"/>
<!-- junction box -->
<path class="of" d="M255.8 574.2L276.7 580L280 586.7L278.3 590L260 598.4L260 601.7L254.2 603.6L248.3 600.8L247.5 594.2L251 584Z"/>
<path class="o" d="M247.5 594.2L260 595.8L278.3 587.5M251 584L260 595.8M248.3 600.8L254.2 597.6L260 598.4M254.2 597.6L254.2 603.6"/>
<path class="o" d="M252.5 603L253.3 615M256 603L256.6 614"/>
<path class="o" d="M254.2 613.3L283.3 605M254.2 616.7L285 607.5M283.3 605L285 607.5"/>
<!-- gland 1 -->
<ellipse cx="245.2" cy="575.6" rx="6.4" ry="4.2" transform="rotate(14 245.2 575.6)" fill="#fdfdfd" stroke="#111" stroke-width="2"/>
<ellipse cx="245.6" cy="581" rx="7.2" ry="4.8" transform="rotate(14 245.6 581)" fill="none" stroke="#111" stroke-width="1.9"/>
<path class="o" d="M238.6 584.6Q245 590.6 252.6 586"/>
<!-- gland 2 -->
<ellipse cx="276" cy="596.6" rx="5.4" ry="7.8" transform="rotate(-22 276 596.6)" fill="#fdfdfd" stroke="#111" stroke-width="2.1"/>
<ellipse cx="279.4" cy="597.6" rx="4.2" ry="6.2" transform="rotate(-22 279.4 597.6)" fill="#fdfdfd" stroke="#111" stroke-width="1.7"/>
<path class="of" d="M281.6 594L297.6 601.4L297 606L282 600.8Z"/>
<!-- ridged block 1 -->
<path class="of" d="M198.3 590L238.3 581.7L243.3 587.5Q244.6 598 246 607Q248 616 251 624L249.4 638.6L240 642.5L204 644.6L202.5 626.7Z"/>
<path d="M203 592.4L240.6 584.2M205.6 594.6L242 586.4M208.3 596.8L243.3 588.8" stroke="#111" stroke-width="1.6" fill="none"/>
<path class="o" d="M208.3 596.4L211.7 598.3Q212 607 213.3 615Q217 627 223.3 636.7M202 600Q201 615 203 640"/>
<path class="o" d="M218.3 616.7Q223.6 629.6 231.7 640.4L234.6 639Q226.6 628 221 616Z" stroke-width="1.2"/>
<path class="o" d="M245.8 608.3Q250.6 617.6 256.7 625.6L259.6 624Q253.6 616 248.6 607Z" stroke-width="1.2"/>
<!-- ridged block 2 -->
<path class="of" d="M251.7 628.3L283.3 618.3L287.5 622.5L287 625L256 636.4L249.2 638.3L250 630Z"/>
<path d="M254 630L284.6 620.2M255.6 632.2L286 622.4M256.4 634.4L286.8 624.6" stroke="#111" stroke-width="1.6" fill="none"/>
<!-- small boss bottom-left -->
<path class="o" d="M190 641L198 641.6L198.6 647.6L190.6 647Z M192 637.6L196.6 638L196.4 641.4M180 646.7L186 647.4"/>

<!-- rim -->
<g transform="translate(-0.6 1.6)">
<path d="M176 646.4Q205 648.8 231.7 644.4Q245 642 256.7 638.3Q270 633.6 281.7 628.3Q295 621 306 612.6Q313 606 317.4 598Q320.4 591.6 320.8 585Q321 580 320 576.7L314 578Q315 584 314 590Q311 598 304 605.6Q294 614 281 621.6Q269 627.6 256 632.4Q244 636 231 638.4Q205 642.4 176 640.4Z" fill="#fdfdfd" stroke="none"/>
<path class="o" d="M180 643.6Q206 645.6 231.7 642Q245 639.6 256.7 635.8Q270 631 281.7 625.4Q294 619 304.6 610.6Q311.6 604 315.4 596.6Q318.4 590.6 318.6 584.6Q318.6 580 317.6 577" stroke-width="1.2"/>
<path class="o" d="M178 646.4Q205 648.6 231.7 644.8Q245 642.4 257 638.6Q270.6 634 282.4 628.4Q295.6 621.6 306.6 613Q314 606.4 318.4 598.6Q321 592 321.4 585.4Q321.4 580 320.4 576.8" stroke-width="1.2"/>
<path class="o" d="M178 649Q206 651 232.6 647.2Q246 644.8 258 641Q271.6 636.4 283.6 630.6Q297 623.6 308 615Q315.6 608 320 600" stroke-width="0.9"/>
<path class="o" d="M268.3 634.2L273.3 635.8"/>
</g>
<!-- cable -->
<path class="of" d="M322.5 579.7L384.2 572.2Q386 574.6 385.2 578.2L325 586.3Z"/>
<ellipse class="o" cx="384.6" cy="575.2" rx="1.3" ry="3"/>
<path class="of" d="M313.6 582Q316 577.6 321 578.4L322.6 588Q319 590.6 315 589.6Z"/>
<path class="o" d="M316.6 577L319.6 573.4L322 577.6M307 577.6L313 579.6"/>
<path d="M319.6 579Q321.6 584 320.6 589.6" stroke="#111" stroke-width="1.6" fill="none"/>

<!-- upper pump head -->
<path class="of" d="M177.5 505.9Q180 501.6 184.4 500.2L198 502.6L228.7 488.2Q236 493 241.3 500.9Q246 509 247.6 518.6Q249.6 532 248.9 543.9L247 560L236 566L208.3 562.6Q196 560 186 552Q177 541 175.6 523Q175.2 512 177.5 505.9Z"/>
<path class="o" d="M198.3 505.9Q204.6 511 209.7 518.6Q215 526 218.6 533.7Q221 540 221.1 546.4Q221 552 218.6 556Q215 560.6 208.3 562.6"/>
<path class="o" d="M213.5 504.7Q220 512 224.9 521.1Q227.4 530 227.4 538.8Q227.6 548 226.2 558"/>
<path class="o" d="M223.6 503.4Q230 511 233.7 521.1Q236 532 235.6 543.9Q235.4 554 234 562"/>
<path class="o" d="M216 505.9L240 500.9M224.9 522.4L246.4 515.4M228.7 487L256 479.4"/>
<path class="o" d="M197.7 502.8L199.6 507.2Q205 510.6 212.2 509.7L212.9 504M199.6 507.2Q197 510 192 510.4"/>
<!-- plate + collar -->
<path class="of" d="M185.7 487L184.4 498.3L192 500.6Q200 503.6 208 503.4Q214 503 216 502L231.8 498.3L232.5 495.2L223.6 489.5Z"/>
<ellipse class="of" cx="206.2" cy="494.6" rx="17.4" ry="7.6"/>
<!-- cap -->
<path d="M191 484Q191 478 206.6 476.4Q222.2 478 222.4 484L221.2 495.6Q216 500.6 206 500.9Q196 500.6 191.6 495.6Z" fill="#1c1c1c" stroke="#1c1c1c" stroke-width="1"/>
<ellipse cx="206.6" cy="483.4" rx="15.4" ry="7.3" fill="#fdfdfd" stroke="#1c1c1c" stroke-width="1.1"/>
<ellipse cx="206.6" cy="483.4" rx="13.2" ry="5.6" fill="none" stroke="#555" stroke-width="0.7"/>
<path d="M199 487Q207 484.6 216 487.6" stroke="#999" stroke-width="0.6" fill="none"/>
<path d="M193 493Q206 498.6 220.6 492.6" stroke="#4a4a4a" stroke-width="0.6" fill="none"/>
<!-- inlet port -->
<path d="M181.9 518.6Q188 516.6 193.3 517.9Q198 521.6 200.9 527.4Q202.4 533 201.5 538.8Q199.6 543.6 195.8 546.4Q191 548 187 547Q192 541 191.6 532.5Q190.4 523.6 181.9 518.6Z" fill="#1c1c1c" stroke="#1c1c1c" stroke-width="1"/>
<path class="o" d="M198 520.6Q202.6 526 203.4 533Q203.4 541 199.6 546" stroke-width="0.7"/>
<ellipse cx="183.6" cy="533" rx="7.6" ry="13.8" transform="rotate(-12 183.6 533)" fill="#fdfdfd" stroke="#1c1c1c" stroke-width="1.2"/>

<!-- lower pump head -->
<path class="of" d="M116.2 576.2Q118 571 121.9 568.7Q127 565.4 133.3 564.2L146 566L177.5 555.4Q182.6 558.6 186.4 563.6Q191 568 194 573.7Q196.6 582 197 592L196 612L186 628L161.1 622Q140 624 128.3 613.3Q120 603.6 116.6 592Q115 584 116.2 576.2Z"/>
<path class="o" d="M145.9 570Q153 575.6 158.6 582.6Q162.6 590 164.9 597.7Q166 604 164.9 610.4Q163.6 616 161.1 620"/>
<path class="o" d="M162.4 570Q168.6 577 172.5 585.1Q175 594 175 602.8Q175 612 173.7 620"/>
<path class="o" d="M168.7 564.9Q176 572 181.3 580Q184.6 589 185.1 597.7Q185.6 610 185.1 622"/>
<path class="o" d="M164 571L182 564.6M176.3 582.6L195.2 575"/>
<path class="o" d="M144.7 565.5L145.9 570Q152 573 159.8 571.2L161.1 564.9M145.9 570Q143 573 138 573.6"/>
<path class="of" d="M131.6 550L130.6 561L138 563.4Q146 566 154 565.8Q160 565.4 162.4 564.2L176.3 559.2L177.5 555.4L168.7 552.2Z"/>
<ellipse class="of" cx="151" cy="557.3" rx="17.7" ry="7.6"/>
<path d="M135.2 547Q135.2 541 150.4 539.4Q165.4 541 165.5 547L164.6 557Q159 561.4 150.4 561.7Q141 561.4 136 557Z" fill="#1c1c1c" stroke="#1c1c1c" stroke-width="1"/>
<ellipse cx="150.4" cy="546.5" rx="15.1" ry="7.4" fill="#fdfdfd" stroke="#1c1c1c" stroke-width="1.1"/>
<ellipse cx="150.4" cy="546.5" rx="12.8" ry="5.6" fill="none" stroke="#555" stroke-width="0.7"/>
<path d="M143 550Q151 547.6 160 550.6" stroke="#999" stroke-width="0.6" fill="none"/>
<path d="M137.6 555Q150 560 164 554.6" stroke="#4a4a4a" stroke-width="0.6" fill="none"/>
<path d="M128.2 583.8Q134 581 139.6 580.7Q145.6 584 149.7 588.9Q152 593 152.2 597.7Q152 603 149.7 606.6Q146 610.4 140.9 611.6Q143 605 142.2 598Q140 589.6 128.2 583.8Z" fill="#1c1c1c" stroke="#1c1c1c" stroke-width="1"/>
<ellipse cx="131.2" cy="599" rx="8.6" ry="13.2" transform="rotate(-16 131.2 599)" fill="#fdfdfd" stroke="#1c1c1c" stroke-width="1.2"/>
<ellipse cx="136.4" cy="597.6" rx="5" ry="9.6" transform="rotate(-16 136.4 597.6)" fill="none" stroke="#333" stroke-width="0.75"/>

<path d="M127 611Q134 618 142 622Q150 626 157.6 631" stroke="#111" stroke-width="1.5" fill="none"/>
<path class="o" d="M128 614.6Q135 621 143 625Q150 628.6 157 633.4M157.6 631L157 633.4"/>
<path d="M166.2 544Q173 545.4 178.8 548.4Q185 552.6 190.2 558.5Q194 563.6 196 568.7Q198.6 576 199 584" stroke="#111" stroke-width="1.6" fill="none"/>
<!-- button 6 -->
<path class="of" d="M143.3 628.3Q148 630.6 150.6 638Q152.4 646 150 652.6Q148 656 145 658L139 658.6L139.6 629.6Z"/>
<ellipse cx="139.2" cy="643.8" rx="8.4" ry="14.8" transform="rotate(-6 139.2 643.8)" class="of"/>
<!-- swoosh shapes bottom -->
<path class="o" d="M154 626Q158 634 158 641Q158.6 648 165 650.6Q170 651 172.6 646.6Q175 642 178 641L186 647.4L192 648"/>
<path class="o" d="M150 630L151.6 636M186 626Q194 626.6 200 630"/>
</g>
<g id="bracket">
<!-- bracket strap (3) -->
<path class="of" d="M211.7 451.7L224.6 442.6Q233 437.6 242 434.6Q250 432.6 257 434.6Q265 438.6 271 446Q277 455 279.6 466L282 477.6L290.4 480.2L291.4 484L259.4 496L256.6 492.4Q255.6 478 251.6 466Q247 454 240.4 447L240 453.3L215 461.2Z"/>
<path d="M225 442.6Q233.6 443 240.4 447Q247 454 251.6 466Q255.6 478 256.7 491.5" fill="none" stroke="#111" stroke-width="1.5"/>
<path d="M215.2 460.4L240 452.6M257 492.4L290 480.2" fill="none" stroke="#111" stroke-width="1.5"/>
<path class="o" d="M225 442.6L215.6 457.6M227 443.4L233 445.4L229 452"/>
<path class="o" d="M246.7 434Q257 444 262.6 458Q268 472 271.7 486.6M254.6 471.7L278.4 465.6M258 488.6L285.4 478.6"/>
</g>
<g id="left">
<!-- hose tail left -->
<ellipse class="of" cx="91.6" cy="623.2" rx="8.5" ry="15.4" transform="rotate(-20 91.6 623.2)" stroke-width="1.2"/>
<ellipse class="of" cx="89.8" cy="623.7" rx="8.5" ry="15.4" transform="rotate(-20 89.8 623.7)" stroke-width="1.1"/>
<path d="M94.7 621.8L95.4 623.8L95.8 625.9L96.1 627.9L96.2 629.8L96.1 631.5L95.8 633.1L95.4 634.4L94.7 635.5L93.9 636.2L92.9 636.7L91.9 636.8L90.7 636.6L89.5 636.0L88.3 635.2L87.1 634.0L85.9 632.6L84.8 631.0L83.8 629.2L82.9 627.2L82.1 625.2L81.6 623.1L81.2 621.1L81.0 619.1L81.0 617.3L81.2 615.7L81.6 614.2L82.1 613.0L82.9 612.1L83.8 611.5L84.8 611.2L85.9 611.3L87.1 611.7L88.3 612.4L89.5 613.4L90.7 614.7L91.9 616.2L92.9 617.9L93.9 619.8L94.7 621.8Z" fill="#fdfdfd" stroke="#222" stroke-width="1.15"/>
<path d="M84.0 611.4L82.2 612.3L91.4 637.5L93.2 636.6Z" fill="#fdfdfd" stroke="none"/>
<path d="M84.0 611.4L82.2 612.3M93.2 636.6L91.4 637.5" fill="none" stroke="#222" stroke-width="1.05"/>
<path d="M92.9 622.6L93.6 624.7L94.0 626.7L94.3 628.7L94.4 630.6L94.3 632.4L94.0 634.0L93.6 635.3L92.9 636.3L92.1 637.1L91.1 637.5L90.1 637.6L88.9 637.4L87.7 636.9L86.5 636.0L85.3 634.9L84.1 633.5L83.0 631.8L82.0 630.0L81.1 628.1L80.3 626.1L79.8 624.0L79.4 622.0L79.2 620.0L79.2 618.2L79.4 616.5L79.8 615.1L80.3 613.9L81.1 613.0L82.0 612.4L83.0 612.1L84.1 612.1L85.3 612.5L86.5 613.2L87.7 614.2L88.9 615.5L90.1 617.0L91.1 618.8L92.1 620.6L92.9 622.6Z" fill="#fdfdfd" stroke="#222" stroke-width="1.15"/>
<path d="M82.2 612.3L80.4 613.1L89.6 638.3L91.4 637.5Z" fill="#fdfdfd" stroke="none"/>
<path d="M82.2 612.3L80.4 613.1M91.4 637.5L89.6 638.3" fill="none" stroke="#222" stroke-width="1.05"/>
<path d="M91.1 623.5L91.8 625.5L92.2 627.6L92.5 629.6L92.6 631.5L92.5 633.3L92.2 634.8L91.8 636.1L91.1 637.2L90.3 638.0L89.3 638.4L88.3 638.5L87.1 638.3L85.9 637.7L84.7 636.9L83.5 635.7L82.3 634.3L81.2 632.7L80.2 630.9L79.3 628.9L78.5 626.9L78.0 624.9L77.6 622.8L77.4 620.9L77.4 619.0L77.6 617.4L78.0 615.9L78.5 614.7L79.3 613.8L80.2 613.2L81.2 613.0L82.3 613.0L83.5 613.4L84.7 614.1L85.9 615.1L87.1 616.4L88.3 617.9L89.3 619.6L90.3 621.5L91.1 623.5Z" fill="#fdfdfd" stroke="#222" stroke-width="0.6"/>
<path d="M80.4 613.1L78.6 614.0L87.7 639.2L89.6 638.3Z" fill="#fdfdfd" stroke="none"/>
<path d="M80.4 613.1L78.6 614.0M89.6 638.3L87.7 639.2" fill="none" stroke="#222" stroke-width="1.05"/>
<path d="M89.2 624.4L89.9 626.4L90.4 628.5L90.7 630.5L90.8 632.4L90.7 634.1L90.4 635.7L89.9 637.0L89.2 638.1L88.4 638.8L87.5 639.3L86.4 639.4L85.3 639.2L84.1 638.6L82.8 637.8L81.6 636.6L80.4 635.2L79.3 633.6L78.3 631.8L77.4 629.8L76.7 627.8L76.1 625.7L75.7 623.7L75.5 621.8L75.5 619.9L75.7 618.3L76.1 616.8L76.7 615.6L77.4 614.7L78.3 614.1L79.3 613.8L80.4 613.9L81.6 614.3L82.8 615.0L84.1 616.0L85.3 617.3L86.4 618.8L87.5 620.5L88.4 622.4L89.2 624.4Z" fill="#fdfdfd" stroke="#222" stroke-width="0.6"/>
<path d="M78.6 614.0L78.3 614.4L87.2 639.2L87.7 639.2Z" fill="#fdfdfd" stroke="none"/>
<path d="M78.6 614.0L78.3 614.4M87.7 639.2L87.2 639.2" fill="none" stroke="#222" stroke-width="1.05"/>
<path d="M88.8 624.6L89.4 626.6L89.9 628.6L90.2 630.6L90.3 632.5L90.2 634.2L89.9 635.7L89.4 637.0L88.7 638.1L87.9 638.8L87.0 639.2L86.0 639.3L84.8 639.1L83.6 638.6L82.4 637.8L81.2 636.6L80.1 635.2L79.0 633.7L78.0 631.9L77.1 630.0L76.4 628.0L75.8 626.0L75.4 624.0L75.3 622.0L75.3 620.2L75.5 618.6L75.8 617.2L76.4 616.0L77.1 615.1L78.0 614.5L79.0 614.3L80.1 614.3L81.3 614.7L82.5 615.4L83.7 616.4L84.9 617.6L86.0 619.1L87.0 620.8L88.0 622.6L88.8 624.6Z" fill="#fdfdfd" stroke="#222" stroke-width="1.15"/>
<path d="M78.3 614.4L76.3 615.4L85.3 640.0L87.2 639.2Z" fill="#fdfdfd" stroke="none"/>
<path d="M78.3 614.4L76.3 615.4M87.2 639.2L85.3 640.0" fill="none" stroke="#222" stroke-width="1.05"/>
<path d="M86.8 625.5L87.5 627.5L87.9 629.5L88.2 631.5L88.3 633.3L88.2 635.1L87.9 636.6L87.4 637.9L86.8 638.9L86.0 639.6L85.0 640.1L84.0 640.2L82.9 640.0L81.7 639.4L80.5 638.6L79.3 637.5L78.1 636.1L77.1 634.5L76.1 632.8L75.2 630.9L74.5 628.9L73.9 626.9L73.6 624.9L73.4 623.0L73.4 621.2L73.6 619.6L74.0 618.2L74.5 617.0L75.2 616.1L76.1 615.5L77.1 615.3L78.2 615.3L79.3 615.7L80.5 616.4L81.7 617.3L82.9 618.6L84.0 620.1L85.1 621.8L86.0 623.6L86.8 625.5Z" fill="#fdfdfd" stroke="#222" stroke-width="1.15"/>
<path d="M76.3 615.4L74.4 616.4L83.3 640.8L85.3 640.0Z" fill="#fdfdfd" stroke="none"/>
<path d="M76.3 615.4L74.4 616.4M85.3 640.0L83.3 640.8" fill="none" stroke="#222" stroke-width="1.05"/>
<path d="M84.9 626.5L85.5 628.4L86.0 630.4L86.2 632.4L86.3 634.2L86.2 635.9L85.9 637.4L85.5 638.7L84.8 639.8L84.0 640.5L83.1 640.9L82.0 641.0L80.9 640.8L79.8 640.3L78.6 639.5L77.4 638.4L76.2 637.0L75.1 635.4L74.2 633.7L73.3 631.8L72.6 629.8L72.0 627.8L71.7 625.8L71.5 623.9L71.5 622.2L71.7 620.5L72.1 619.1L72.6 618.0L73.3 617.1L74.2 616.5L75.2 616.3L76.3 616.3L77.4 616.7L78.6 617.4L79.8 618.3L81.0 619.6L82.1 621.0L83.1 622.7L84.1 624.5L84.9 626.5Z" fill="#fdfdfd" stroke="#222" stroke-width="0.6"/>
<path d="M74.4 616.4L72.5 617.5L81.3 641.7L83.3 640.8Z" fill="#fdfdfd" stroke="none"/>
<path d="M74.4 616.4L72.5 617.5M83.3 640.8L81.3 641.7" fill="none" stroke="#222" stroke-width="1.05"/>
<path d="M82.8 627.4L83.5 629.4L83.9 631.4L84.2 633.3L84.3 635.1L84.2 636.8L83.9 638.3L83.4 639.6L82.8 640.6L82.0 641.4L81.1 641.8L80.0 641.9L78.9 641.7L77.8 641.2L76.6 640.3L75.4 639.2L74.2 637.9L73.2 636.3L72.2 634.6L71.3 632.7L70.6 630.8L70.1 628.8L69.7 626.8L69.5 624.9L69.5 623.2L69.7 621.6L70.1 620.2L70.7 619.0L71.4 618.1L72.2 617.5L73.2 617.3L74.3 617.3L75.5 617.7L76.6 618.4L77.8 619.3L79.0 620.6L80.1 622.0L81.1 623.7L82.0 625.5L82.8 627.4Z" fill="#fdfdfd" stroke="#222" stroke-width="0.6"/>
<path d="M72.5 617.5L72.3 618.1L80.8 641.4L81.3 641.7Z" fill="#fdfdfd" stroke="none"/>
<path d="M72.5 617.5L72.3 618.1M81.3 641.7L80.8 641.4" fill="none" stroke="#222" stroke-width="1.05"/>
<path d="M82.3 627.7L82.9 629.6L83.3 631.5L83.6 633.3L83.7 635.1L83.6 636.7L83.3 638.2L82.8 639.4L82.2 640.4L81.4 641.1L80.5 641.5L79.5 641.6L78.4 641.4L77.3 640.9L76.2 640.1L75.0 639.1L73.9 637.8L72.9 636.3L71.9 634.6L71.1 632.8L70.4 630.9L69.9 629.0L69.5 627.1L69.4 625.3L69.4 623.6L69.6 622.1L70.0 620.7L70.5 619.6L71.2 618.8L72.0 618.2L73.0 617.9L74.0 618.0L75.1 618.3L76.3 619.0L77.4 619.9L78.6 621.1L79.6 622.5L80.6 624.1L81.5 625.8L82.3 627.7Z" fill="#fdfdfd" stroke="#222" stroke-width="1.15"/>
<path d="M72.3 618.1L70.5 619.1L78.9 642.2L80.8 641.4Z" fill="#fdfdfd" stroke="none"/>
<path d="M72.3 618.1L70.5 619.1M80.8 641.4L78.9 642.2" fill="none" stroke="#222" stroke-width="1.05"/>
<path d="M80.4 628.5L81.0 630.4L81.5 632.3L81.7 634.2L81.8 635.9L81.7 637.5L81.4 639.0L81.0 640.2L80.3 641.2L79.6 641.9L78.7 642.3L77.7 642.4L76.6 642.2L75.5 641.7L74.4 640.9L73.2 639.9L72.1 638.6L71.1 637.1L70.2 635.4L69.3 633.6L68.7 631.8L68.1 629.9L67.8 628.0L67.6 626.2L67.6 624.5L67.8 623.0L68.2 621.7L68.7 620.5L69.4 619.7L70.3 619.2L71.2 618.9L72.3 618.9L73.4 619.3L74.5 619.9L75.6 620.8L76.8 622.0L77.8 623.4L78.8 625.0L79.7 626.7L80.4 628.5Z" fill="#fdfdfd" stroke="#222" stroke-width="1.15"/>
<path d="M70.5 619.1L68.7 620.0L77.1 642.9L78.9 642.2Z" fill="#fdfdfd" stroke="none"/>
<path d="M70.5 619.1L68.7 620.0M78.9 642.2L77.1 642.9" fill="none" stroke="#222" stroke-width="1.05"/>
<path d="M78.6 629.4L79.2 631.3L79.6 633.2L79.9 635.0L80.0 636.7L79.9 638.3L79.6 639.7L79.1 641.0L78.5 641.9L77.7 642.6L76.8 643.0L75.9 643.1L74.8 642.9L73.7 642.4L72.5 641.7L71.4 640.6L70.3 639.4L69.3 637.9L68.4 636.2L67.6 634.5L66.9 632.6L66.4 630.7L66.0 628.9L65.9 627.1L65.9 625.4L66.1 623.9L66.5 622.6L67.0 621.5L67.7 620.7L68.5 620.1L69.4 619.9L70.5 619.9L71.6 620.2L72.7 620.9L73.8 621.8L74.9 622.9L76.0 624.3L77.0 625.9L77.8 627.6L78.6 629.4Z" fill="#fdfdfd" stroke="#222" stroke-width="0.6"/>
<path d="M68.7 620.0L66.9 621.0L75.2 643.7L77.1 642.9Z" fill="#fdfdfd" stroke="none"/>
<path d="M68.7 620.0L66.9 621.0M77.1 642.9L75.2 643.7" fill="none" stroke="#222" stroke-width="1.05"/>
<path d="M76.7 630.3L77.3 632.2L77.7 634.0L78.0 635.8L78.0 637.6L77.9 639.1L77.7 640.6L77.2 641.8L76.6 642.7L75.8 643.4L75.0 643.8L74.0 643.9L72.9 643.7L71.8 643.2L70.7 642.5L69.6 641.4L68.5 640.2L67.5 638.7L66.6 637.1L65.8 635.3L65.1 633.5L64.6 631.6L64.2 629.8L64.1 628.0L64.1 626.4L64.3 624.9L64.6 623.6L65.2 622.5L65.9 621.7L66.7 621.1L67.6 620.8L68.6 620.9L69.7 621.2L70.9 621.9L72.0 622.8L73.1 623.9L74.1 625.3L75.1 626.8L76.0 628.5L76.7 630.3Z" fill="#fdfdfd" stroke="#222" stroke-width="0.6"/>
<path d="M66.9 621.0L66.8 621.8L74.6 643.3L75.2 643.7Z" fill="#fdfdfd" stroke="none"/>
<path d="M66.9 621.0L66.8 621.8M75.2 643.7L74.6 643.3" fill="none" stroke="#222" stroke-width="1.05"/>
<path d="M76.1 630.6L76.6 632.3L77.0 634.1L77.3 635.8L77.3 637.4L77.2 638.9L77.0 640.3L76.5 641.4L75.9 642.3L75.2 643.0L74.3 643.4L73.4 643.5L72.4 643.3L71.3 642.8L70.3 642.1L69.2 641.2L68.2 640.0L67.2 638.6L66.3 637.0L65.6 635.4L65.0 633.7L64.5 631.9L64.2 630.2L64.0 628.5L64.0 626.9L64.2 625.5L64.6 624.2L65.1 623.2L65.7 622.4L66.5 621.9L67.4 621.7L68.4 621.7L69.4 622.0L70.5 622.6L71.6 623.4L72.6 624.5L73.6 625.8L74.6 627.3L75.4 628.9L76.1 630.6Z" fill="#fdfdfd" stroke="#222" stroke-width="1.15"/>
<path d="M66.8 621.8L65.0 622.8L72.7 644.0L74.6 643.3Z" fill="#fdfdfd" stroke="none"/>
<path d="M66.8 621.8L65.0 622.8M74.6 643.3L72.7 644.0" fill="none" stroke="#222" stroke-width="1.05"/>
<path d="M74.2 631.5L74.8 633.2L75.2 634.9L75.4 636.6L75.5 638.2L75.3 639.7L75.1 641.0L74.6 642.1L74.0 643.0L73.3 643.7L72.5 644.1L71.6 644.2L70.6 644.0L69.5 643.6L68.5 642.9L67.4 641.9L66.4 640.7L65.4 639.4L64.6 637.8L63.8 636.2L63.2 634.5L62.7 632.8L62.4 631.1L62.3 629.4L62.3 627.9L62.5 626.4L62.8 625.2L63.4 624.2L64.0 623.4L64.8 622.9L65.7 622.7L66.6 622.7L67.7 623.0L68.7 623.6L69.8 624.4L70.8 625.5L71.8 626.8L72.7 628.2L73.5 629.8L74.2 631.5Z" fill="#fdfdfd" stroke="#222" stroke-width="1.15"/>
<path d="M65.0 622.8L63.3 623.8L70.9 644.7L72.7 644.0Z" fill="#fdfdfd" stroke="none"/>
<path d="M65.0 622.8L63.3 623.8M72.7 644.0L70.9 644.7" fill="none" stroke="#222" stroke-width="1.05"/>
<path d="M72.3 632.3L72.9 634.0L73.3 635.8L73.5 637.4L73.6 639.0L73.5 640.5L73.2 641.8L72.8 642.9L72.2 643.8L71.5 644.4L70.6 644.8L69.7 644.9L68.7 644.7L67.7 644.3L66.7 643.6L65.6 642.6L64.6 641.5L63.7 640.1L62.8 638.6L62.1 637.0L61.5 635.4L61.0 633.6L60.7 632.0L60.6 630.3L60.6 628.8L60.8 627.4L61.1 626.2L61.6 625.2L62.3 624.4L63.0 623.9L63.9 623.7L64.9 623.7L65.9 624.0L66.9 624.6L68.0 625.4L69.0 626.5L70.0 627.7L70.9 629.1L71.7 630.7L72.3 632.3Z" fill="#fdfdfd" stroke="#222" stroke-width="0.6"/>
<path d="M63.3 623.8L61.5 624.9L68.9 645.4L70.9 644.7Z" fill="#fdfdfd" stroke="none"/>
<path d="M63.3 623.8L61.5 624.9M70.9 644.7L68.9 645.4" fill="none" stroke="#222" stroke-width="1.05"/>
<path d="M70.4 633.3L71.0 634.9L71.3 636.6L71.6 638.3L71.6 639.8L71.5 641.3L71.3 642.5L70.8 643.6L70.3 644.5L69.5 645.1L68.7 645.5L67.8 645.6L66.8 645.4L65.8 645.0L64.8 644.3L63.8 643.4L62.8 642.3L61.9 640.9L61.0 639.5L60.3 637.9L59.7 636.2L59.2 634.5L58.9 632.9L58.8 631.3L58.8 629.8L59.0 628.4L59.3 627.2L59.8 626.2L60.5 625.5L61.3 625.0L62.1 624.7L63.1 624.8L64.1 625.1L65.1 625.6L66.1 626.4L67.1 627.5L68.1 628.7L69.0 630.1L69.8 631.6L70.4 633.3Z" fill="#fdfdfd" stroke="#222" stroke-width="0.6"/>
<path d="M61.5 624.9L61.3 625.8L68.3 644.9L68.9 645.4Z" fill="#fdfdfd" stroke="none"/>
<path d="M61.5 624.9L61.3 625.8M68.9 645.4L68.3 644.9" fill="none" stroke="#222" stroke-width="1.05"/>
<path d="M69.8 633.5L70.2 635.1L70.6 636.7L70.8 638.2L70.8 639.6L70.7 641.0L70.5 642.2L70.1 643.2L69.5 644.0L68.8 644.6L68.1 644.9L67.2 645.0L66.3 644.9L65.3 644.5L64.4 643.9L63.4 643.0L62.5 641.9L61.6 640.7L60.8 639.4L60.2 637.9L59.6 636.4L59.2 634.8L58.9 633.3L58.8 631.8L58.8 630.4L59.0 629.1L59.3 628.0L59.8 627.1L60.4 626.4L61.2 625.9L62.0 625.7L62.9 625.7L63.8 626.0L64.8 626.5L65.7 627.2L66.7 628.2L67.6 629.3L68.4 630.6L69.1 632.0L69.8 633.5Z" fill="#fdfdfd" stroke="#222" stroke-width="1.15"/>
<path d="M61.3 625.8L59.7 626.8L66.5 645.5L68.3 644.9Z" fill="#fdfdfd" stroke="none"/>
<path d="M61.3 625.8L59.7 626.8M68.3 644.9L66.5 645.5" fill="none" stroke="#222" stroke-width="1.05"/>
<path d="M68.0 634.4L68.5 635.9L68.8 637.4L69.0 638.9L69.1 640.3L69.0 641.6L68.7 642.8L68.3 643.8L67.7 644.6L67.1 645.2L66.3 645.5L65.5 645.6L64.6 645.5L63.6 645.1L62.7 644.5L61.7 643.6L60.8 642.6L60.0 641.4L59.2 640.1L58.6 638.7L58.0 637.2L57.6 635.6L57.3 634.1L57.2 632.7L57.2 631.3L57.4 630.1L57.8 629.0L58.2 628.1L58.8 627.4L59.6 626.9L60.4 626.7L61.2 626.7L62.2 627.0L63.1 627.5L64.1 628.2L65.0 629.1L65.9 630.3L66.7 631.5L67.4 632.9L68.0 634.4Z" fill="#fdfdfd" stroke="#222" stroke-width="1.15"/>
<path d="M59.7 626.8L58.2 627.8L64.8 646.0L66.5 645.5Z" fill="#fdfdfd" stroke="none"/>
<path d="M59.7 626.8L58.2 627.8M66.5 645.5L64.8 646.0" fill="none" stroke="#222" stroke-width="1.05"/>
<path d="M66.3 635.2L66.7 636.7L67.1 638.2L67.2 639.6L67.3 641.0L67.2 642.3L66.9 643.4L66.5 644.4L66.0 645.2L65.3 645.8L64.6 646.1L63.8 646.2L62.9 646.1L61.9 645.7L61.0 645.1L60.1 644.3L59.2 643.3L58.4 642.1L57.6 640.8L57.0 639.4L56.4 637.9L56.0 636.5L55.8 635.0L55.6 633.5L55.7 632.2L55.9 631.0L56.2 629.9L56.7 629.0L57.3 628.4L58.0 627.9L58.8 627.7L59.6 627.7L60.5 628.0L61.5 628.5L62.4 629.2L63.3 630.1L64.2 631.2L65.0 632.4L65.7 633.8L66.3 635.2Z" fill="#fdfdfd" stroke="#222" stroke-width="0.6"/>
<path d="M58.2 627.8L56.5 628.9L63.0 646.7L64.8 646.0Z" fill="#fdfdfd" stroke="none"/>
<path d="M58.2 627.8L56.5 628.9M64.8 646.0L63.0 646.7" fill="none" stroke="#222" stroke-width="1.05"/>
<path d="M64.4 636.0L64.9 637.5L65.2 639.0L65.4 640.4L65.4 641.7L65.3 643.0L65.1 644.1L64.7 645.1L64.2 645.8L63.5 646.4L62.8 646.7L62.0 646.8L61.1 646.7L60.2 646.3L59.3 645.7L58.4 644.9L57.5 644.0L56.7 642.8L55.9 641.6L55.3 640.2L54.8 638.8L54.4 637.3L54.1 635.9L54.0 634.5L54.1 633.1L54.3 632.0L54.6 630.9L55.0 630.1L55.6 629.4L56.3 628.9L57.1 628.7L57.9 628.7L58.8 629.0L59.8 629.5L60.7 630.2L61.6 631.1L62.4 632.1L63.2 633.3L63.9 634.6L64.4 636.0Z" fill="#fdfdfd" stroke="#222" stroke-width="0.6"/>
<path d="M56.5 628.9L56.6 630.3L62.1 645.6L63.0 646.7Z" fill="#fdfdfd" stroke="none"/>
<path d="M56.5 628.9L56.6 630.3M63.0 646.7L62.1 645.6" fill="none" stroke="#222" stroke-width="1.05"/>
<path d="M63.6 636.4L64.0 637.7L64.3 638.9L64.4 640.1L64.4 641.3L64.3 642.4L64.1 643.4L63.7 644.2L63.2 644.9L62.6 645.4L62.0 645.7L61.2 645.8L60.5 645.7L59.6 645.4L58.8 644.9L58.0 644.2L57.3 643.3L56.5 642.4L55.9 641.3L55.3 640.1L54.9 638.9L54.6 637.6L54.4 636.4L54.3 635.2L54.3 634.0L54.5 633.0L54.8 632.1L55.2 631.3L55.8 630.8L56.4 630.4L57.1 630.2L57.9 630.2L58.7 630.4L59.5 630.8L60.3 631.4L61.1 632.1L61.8 633.0L62.5 634.1L63.1 635.2L63.6 636.4Z" fill="#fdfdfd" stroke="#222" stroke-width="1.15"/>
<path d="M56.6 630.3L55.2 631.2L60.6 646.1L62.1 645.6Z" fill="#fdfdfd" stroke="none"/>
<path d="M56.6 630.3L55.2 631.2M62.1 645.6L60.6 646.1" fill="none" stroke="#222" stroke-width="1.05"/>
<path d="M62.1 637.1L62.5 638.3L62.7 639.5L62.9 640.7L62.9 641.9L62.8 643.0L62.5 643.9L62.2 644.7L61.7 645.4L61.1 645.8L60.5 646.1L59.8 646.2L59.0 646.1L58.2 645.8L57.4 645.4L56.6 644.7L55.9 643.9L55.2 642.9L54.5 641.9L54.0 640.7L53.6 639.5L53.2 638.3L53.0 637.1L53.0 635.9L53.0 634.8L53.2 633.8L53.5 632.9L53.9 632.2L54.4 631.6L55.1 631.2L55.7 631.0L56.5 631.0L57.3 631.2L58.1 631.6L58.9 632.2L59.6 632.9L60.4 633.8L61.0 634.8L61.6 635.9L62.1 637.1Z" fill="#fdfdfd" stroke="#222" stroke-width="1.15"/>
<path d="M55.2 631.2L53.9 632.0L59.2 646.6L60.6 646.1Z" fill="#fdfdfd" stroke="none"/>
<path d="M55.2 631.2L53.9 632.0M60.6 646.1L59.2 646.6" fill="none" stroke="#222" stroke-width="1.05"/>
<path d="M60.6 637.8L61.0 639.0L61.2 640.2L61.4 641.4L61.4 642.5L61.3 643.5L61.0 644.4L60.7 645.2L60.2 645.9L59.6 646.3L59.0 646.6L58.3 646.7L57.5 646.6L56.8 646.3L56.0 645.9L55.2 645.2L54.5 644.4L53.8 643.5L53.2 642.5L52.7 641.4L52.2 640.2L51.9 639.0L51.7 637.8L51.7 636.7L51.7 635.6L51.9 634.6L52.2 633.8L52.6 633.0L53.1 632.5L53.7 632.1L54.4 631.9L55.1 631.9L55.9 632.1L56.7 632.5L57.4 633.0L58.2 633.8L58.9 634.6L59.6 635.6L60.1 636.7L60.6 637.8Z" fill="#fdfdfd" stroke="#222" stroke-width="0.6"/>
<path d="M53.9 632.0L52.5 633.0L57.6 647.0L59.2 646.6Z" fill="#fdfdfd" stroke="none"/>
<path d="M53.9 632.0L52.5 633.0M59.2 646.6L57.6 647.0" fill="none" stroke="#222" stroke-width="1.05"/>
<path d="M59.1 638.5L59.4 639.7L59.7 640.8L59.8 642.0L59.8 643.1L59.7 644.1L59.4 645.0L59.1 645.7L58.6 646.4L58.1 646.8L57.5 647.1L56.8 647.2L56.0 647.1L55.3 646.8L54.5 646.4L53.8 645.8L53.0 645.0L52.4 644.1L51.8 643.1L51.3 642.0L50.9 640.9L50.6 639.7L50.4 638.6L50.3 637.5L50.4 636.4L50.5 635.5L50.8 634.6L51.2 633.9L51.7 633.4L52.3 633.0L53.0 632.8L53.7 632.8L54.5 633.0L55.2 633.4L56.0 633.9L56.7 634.6L57.4 635.4L58.1 636.4L58.6 637.4L59.1 638.5Z" fill="#fdfdfd" stroke="#222" stroke-width="0.6"/>
<path d="M52.5 633.0L52.6 634.4L56.8 646.0L57.6 647.0Z" fill="#fdfdfd" stroke="none"/>
<path d="M52.5 633.0L52.6 634.4M57.6 647.0L56.8 646.0" fill="none" stroke="#222" stroke-width="1.05"/>
<path d="M58.2 638.9L58.5 639.8L58.7 640.8L58.8 641.7L58.8 642.6L58.7 643.5L58.4 644.2L58.1 644.9L57.7 645.4L57.2 645.8L56.6 646.0L56.0 646.1L55.4 646.1L54.7 645.9L54.1 645.5L53.4 645.0L52.8 644.4L52.2 643.6L51.7 642.8L51.3 641.9L51.0 641.0L50.7 640.0L50.6 639.1L50.5 638.2L50.6 637.3L50.8 636.5L51.1 635.8L51.4 635.2L51.9 634.7L52.4 634.4L53.0 634.3L53.6 634.2L54.3 634.4L54.9 634.7L55.6 635.1L56.2 635.7L56.8 636.3L57.4 637.1L57.8 638.0L58.2 638.9Z" fill="#fdfdfd" stroke="#222" stroke-width="1.15"/>
<path d="M52.6 634.4L51.0 635.5L55.0 646.5L56.8 646.0Z" fill="#fdfdfd" stroke="none"/>
<path d="M52.6 634.4L51.0 635.5M56.8 646.0L55.0 646.5" fill="none" stroke="#222" stroke-width="1.05"/>
<path d="M56.4 639.7L56.7 640.6L56.9 641.5L57.0 642.4L56.9 643.3L56.8 644.1L56.6 644.8L56.3 645.4L55.9 645.9L55.4 646.3L54.9 646.5L54.3 646.6L53.7 646.6L53.0 646.4L52.4 646.0L51.8 645.6L51.2 645.0L50.6 644.3L50.1 643.5L49.7 642.7L49.4 641.8L49.2 640.9L49.1 640.0L49.0 639.1L49.1 638.3L49.3 637.5L49.5 636.8L49.9 636.3L50.3 635.8L50.9 635.5L51.4 635.4L52.0 635.3L52.7 635.5L53.3 635.7L53.9 636.1L54.5 636.7L55.1 637.3L55.6 638.1L56.1 638.9L56.4 639.7Z" fill="#fdfdfd" stroke="#222" stroke-width="1.15"/>
<path d="M51.0 635.5L49.4 636.6L53.2 647.0L55.0 646.5Z" fill="#fdfdfd" stroke="none"/>
<path d="M51.0 635.5L49.4 636.6M55.0 646.5L53.2 647.0" fill="none" stroke="#222" stroke-width="1.05"/>
<path d="M54.6 640.6L54.9 641.4L55.1 642.3L55.1 643.1L55.1 643.9L55.0 644.7L54.8 645.4L54.5 646.0L54.1 646.4L53.6 646.8L53.1 647.0L52.5 647.1L51.9 647.1L51.3 646.9L50.7 646.6L50.1 646.1L49.5 645.6L49.0 644.9L48.6 644.2L48.2 643.4L47.9 642.6L47.7 641.7L47.5 640.8L47.5 640.0L47.6 639.2L47.8 638.5L48.0 637.9L48.4 637.3L48.8 636.9L49.3 636.6L49.8 636.5L50.4 636.4L51.0 636.6L51.6 636.8L52.3 637.2L52.8 637.7L53.4 638.3L53.9 639.0L54.3 639.8L54.6 640.6Z" fill="#fdfdfd" stroke="#222" stroke-width="0.6"/>
<path d="M49.4 636.6L47.8 637.7L51.4 647.5L53.2 647.0Z" fill="#fdfdfd" stroke="none"/>
<path d="M49.4 636.6L47.8 637.7M53.2 647.0L51.4 647.5" fill="none" stroke="#222" stroke-width="1.05"/>
<ellipse class="of" cx="49.6" cy="642.6" rx="3.4" ry="5.2" transform="rotate(-20 49.6 642.6)" stroke-width="1.1"/>
<ellipse class="l" cx="49.9" cy="642.6" rx="2.2" ry="3.8" transform="rotate(-20 49.9 642.6)" />
<!-- nut left -->
<path d="M31.2 638.0L32.4 637.4L33.6 637.1L35.0 636.9L36.3 637.0L37.7 637.2L39.1 637.7L40.4 638.4L41.7 639.2L42.9 640.3L44.0 641.5L45.0 642.8L45.9 644.3L46.7 645.9L47.4 647.5L47.9 649.2L48.2 650.9L48.4 652.7L48.4 654.4L48.2 656.1L47.9 657.7L47.4 659.2L46.8 660.6L46.0 661.9L45.1 663.0L44.1 664.0L43.0 664.8L41.8 665.3L40.5 665.7L39.2 665.9L26.2 671.9L18.0 643.2Z" fill="#1e1e1e" stroke="#1e1e1e" stroke-width="1"/>
<path d="M25.0 641.2L35.1 637.3" stroke="#e6e6e6" stroke-width="0.82" fill="none"/>
<path d="M28.0 641.9L38.1 638.0" stroke="#e6e6e6" stroke-width="1.01" fill="none"/>
<path d="M30.9 643.6L40.9 639.6" stroke="#e6e6e6" stroke-width="1.14" fill="none"/>
<path d="M33.5 646.1L43.4 642.0" stroke="#e6e6e6" stroke-width="1.23" fill="none"/>
<path d="M35.6 649.3L45.4 645.1" stroke="#e6e6e6" stroke-width="1.28" fill="none"/>
<path d="M37.0 653.0L46.8 648.7" stroke="#e6e6e6" stroke-width="1.30" fill="none"/>
<path d="M37.7 656.8L47.5 652.4" stroke="#e6e6e6" stroke-width="1.28" fill="none"/>
<path d="M37.7 660.6L47.5 656.1" stroke="#e6e6e6" stroke-width="1.23" fill="none"/>
<path d="M36.8 664.2L46.6 659.5" stroke="#e6e6e6" stroke-width="1.14" fill="none"/>
<path d="M35.2 667.1L45.1 662.4" stroke="#e6e6e6" stroke-width="1.01" fill="none"/>
<path d="M33.0 669.3L43.0 664.6" stroke="#e6e6e6" stroke-width="0.82" fill="none"/>
<path d="M35.0 653.9L35.4 655.8L35.7 657.8L35.7 659.8L35.6 661.7L35.2 663.6L34.6 665.3L33.9 666.9L32.9 668.3L31.8 669.5L30.6 670.5L29.3 671.2L27.8 671.7L26.3 671.9L24.8 671.9L23.2 671.6L21.6 671.0L20.1 670.2L18.7 669.1L17.3 667.9L16.1 666.4L15.0 664.8L14.1 663.0L13.3 661.1L12.8 659.2L12.4 657.2L12.3 655.2L12.3 653.2L12.6 651.3L13.1 649.5L13.7 647.9L14.6 646.4L15.6 645.1L16.8 644.0L18.0 643.1L19.4 642.5L20.9 642.1L22.5 642.1L24.0 642.2L25.6 642.7L27.1 643.4L28.6 644.3L30.0 645.5L31.3 646.9L32.5 648.4L33.5 650.1L34.3 651.9L35.0 653.9Z" fill="#2c2c2c" stroke="#1a1a1a" stroke-width="1"/>
<ellipse class="l" cx="24.0" cy="657.0" rx="10.1" ry="13.7" transform="rotate(-16 24.0 657.0)" stroke="#c8c8c8" stroke-width="0.9"/>
<ellipse cx="25.2" cy="657.0" rx="8.2" ry="11.2" transform="rotate(-16 25.2 657.0)" fill="#fdfdfd" stroke="#111" stroke-width="0.8"/>
<ellipse cx="25.0" cy="657.0" rx="6.7" ry="9.6" transform="rotate(-16 25.2 657.0)" fill="none" stroke="#3a3a3a" stroke-width="1.7" stroke-dasharray="1.6 1.1"/>
<ellipse cx="25.0" cy="657.0" rx="5.3" ry="8.2" transform="rotate(-16 25.2 657.0)" fill="none" stroke="#666" stroke-width="0.6"/>
</g>
<g id="right">
<!-- remote control (9) -->
<path d="M505 607.2L520.6 615.9L520.8 622.6L491 638.8L475.4 631L475.2 624.5Z" fill="#fdfdfd" stroke="#111" stroke-width="1.5" stroke-linejoin="round"/>
<path d="M475.2 624.5L490.7 632.5L520.6 615.9M490.7 632.5L491 638.8" fill="none" stroke="#111" stroke-width="1.2" stroke-linejoin="round"/>
<path class="o" d="M475.6 627.6L490.9 635.4L520.7 618.8" stroke-width="0.9"/>
<path class="o" d="M481.5 623.3L485.8 620.8L496.2 627L491.8 629.7Z" stroke-width="1"/>
<path class="o" d="M479.4 622.3L484 619.6M497 629L516.6 618.2" stroke-width="0.8"/>
<path class="k" d="M490.8 617.4L503.3 610.5L515 617L502.6 624Z"/>
<path d="M494.6 618Q497 615.6 499.6 617Q502 618.4 504.6 616Q507 613.6 509.6 615M498.6 620.6Q501 618.4 503.6 619.8Q506 621 508.6 618.6Q511 616.4 513 617.6" stroke="#f4f4f4" stroke-width="0.8" fill="none"/>
<!-- signal -->
<g class="h" stroke-width="1.5">
<path d="M519.4 607.2Q524 608.6 527.2 611.3"/>
<path d="M522.6 604.4Q528 606 532 609"/>
<path d="M526 601.5Q532 603.4 536.7 607.2"/>
<path d="M529.5 598.6Q536.5 600.6 541.5 605.2"/>
</g>
<!-- spike (10) -->
<path class="of" d="M590 611.5L605 611.5L604.6 640Q603 672 598.6 696Q597.6 698.2 596.4 696Q592 672 590.4 640Z"/>
<path class="o" d="M591.3 612L591.6 640Q593.2 672 597 695M603.6 612L603.4 640Q602 672 598.2 695" stroke-width="0.8"/>
<path class="o" d="M597.5 612L597.5 696" stroke-width="0.8"/>
<path class="o" d="M590.3 660L593 661.5L591 664M604.6 660L602 661.5L604 664" stroke-width="0.8"/>
<!-- receiver (8) -->
<path class="of" d="M550 536.5Q549 533 552 531L577 519.6Q579.5 518.6 583 519.8Q610 530 628 546.5Q632.5 551 632 556.5L622 596.5Q621.6 598.2 620 599L600 611.5Q597.5 613 595 612L560.5 594Q559.2 593.2 559 592Z"/>
<path d="M550.3 535.6Q553 534 556 535Q584 545 599.5 559Q603.8 563 603 569" fill="none" stroke="#1a1a1a" stroke-width="1.7" stroke-linecap="round"/>
<path class="o" d="M603 569L595.3 611.8"/>
<path class="o" d="M553 532.3Q555.5 531.6 558 532.4Q586 542.6 602.5 557Q607 561.5 606 568L598.3 611"/>
<path class="o" d="M561.5 527Q590 537.4 608.5 552.4Q614.5 557.4 613.3 564.5L606.3 607.5" stroke-width="1.1"/>
<path class="o" d="M564 525.6Q593 536 611 550.6Q617.5 556 616.3 563L609 606"/>
<path class="o" d="M604 561L614 556.3L629.6 548.6M607 571L630.4 559.6M600 592.5L622.6 581.3M598.3 602.6L621.6 591"/>
<path d="M602.5 611.3Q604.5 613.8 608.6 612.6Q612.4 611 611.6 608.6" fill="#ddd" stroke="#222" stroke-width="1.1"/>
<g class="h" stroke-width="1.9">
<path d="M555 544.3Q581 552.5 599 568.3"/>
<path d="M556.7 551.8Q580 559.5 597.5 574.2"/>
<path d="M558.3 559Q579 566 595.8 579.2"/>
<path d="M560 566.7Q578 573 594 585.8"/>
</g>
<ellipse cx="577.6" cy="560" rx="5.2" ry="6.2" transform="rotate(-15 577.6 560)" fill="#fdfdfd" stroke="#1a1a1a" stroke-width="1.1"/>
</g>
<g id="labels">
<g class="ld">
<path d="M58 230.5L124.7 247"/>
<path d="M241.3 157L315.6 227"/>
<path d="M79.7 352.8L157.7 369.3"/>
<path d="M340.8 374.3L370.8 397.7"/>
<path d="M399 371.8L408.3 409.3"/>
<path d="M267 452.4L374.6 463.3"/>
<path d="M75 521.3L135 570"/>
<path d="M56.7 556.3L89 610"/>
<path d="M29 584.7L29 636"/>
<path d="M94.2 689L138.3 645.8"/>
<path d="M267.3 650.6L347.8 663.7"/>
<path d="M501 547.5L501 609"/>
<path d="M576.3 593.3L538.3 660"/>
<path d="M603.3 636L667.5 679"/>
</g>
<g class="n">
<text x="47.6" y="232.6" textLength="6.5" lengthAdjust="spacingAndGlyphs">2</text>
<text x="231.6" y="158" textLength="6.5" lengthAdjust="spacingAndGlyphs">4</text>
<text x="69.0" y="356.3" textLength="6.5" lengthAdjust="spacingAndGlyphs">5</text>
<text x="373.4" y="409.2" textLength="6.5" lengthAdjust="spacingAndGlyphs">6</text>
<text x="405.6" y="422" textLength="6.5" lengthAdjust="spacingAndGlyphs">6</text>
<text x="376.1" y="467" textLength="6.5" lengthAdjust="spacingAndGlyphs">3</text>
<text x="67.2" y="525.2" textLength="6.5" lengthAdjust="spacingAndGlyphs">7</text>
<text x="47.4" y="559.3" textLength="6.5" lengthAdjust="spacingAndGlyphs">6</text>
<text x="24.9" y="579.3" textLength="6.5" lengthAdjust="spacingAndGlyphs">6</text>
<text x="86.1" y="695" textLength="6.5" lengthAdjust="spacingAndGlyphs">6</text>
<text x="348.9" y="667.2" textLength="6.5" lengthAdjust="spacingAndGlyphs">1</text>
<text x="498.1" y="544.3" textLength="6.5" lengthAdjust="spacingAndGlyphs">9</text>
<text x="531.2" y="674.3" textLength="6.5" lengthAdjust="spacingAndGlyphs">8</text>
<text x="672.1" y="686.2" textLength="13.0" lengthAdjust="spacingAndGlyphs">10</text>
</g>
</g>
</svg>
</body></html>
